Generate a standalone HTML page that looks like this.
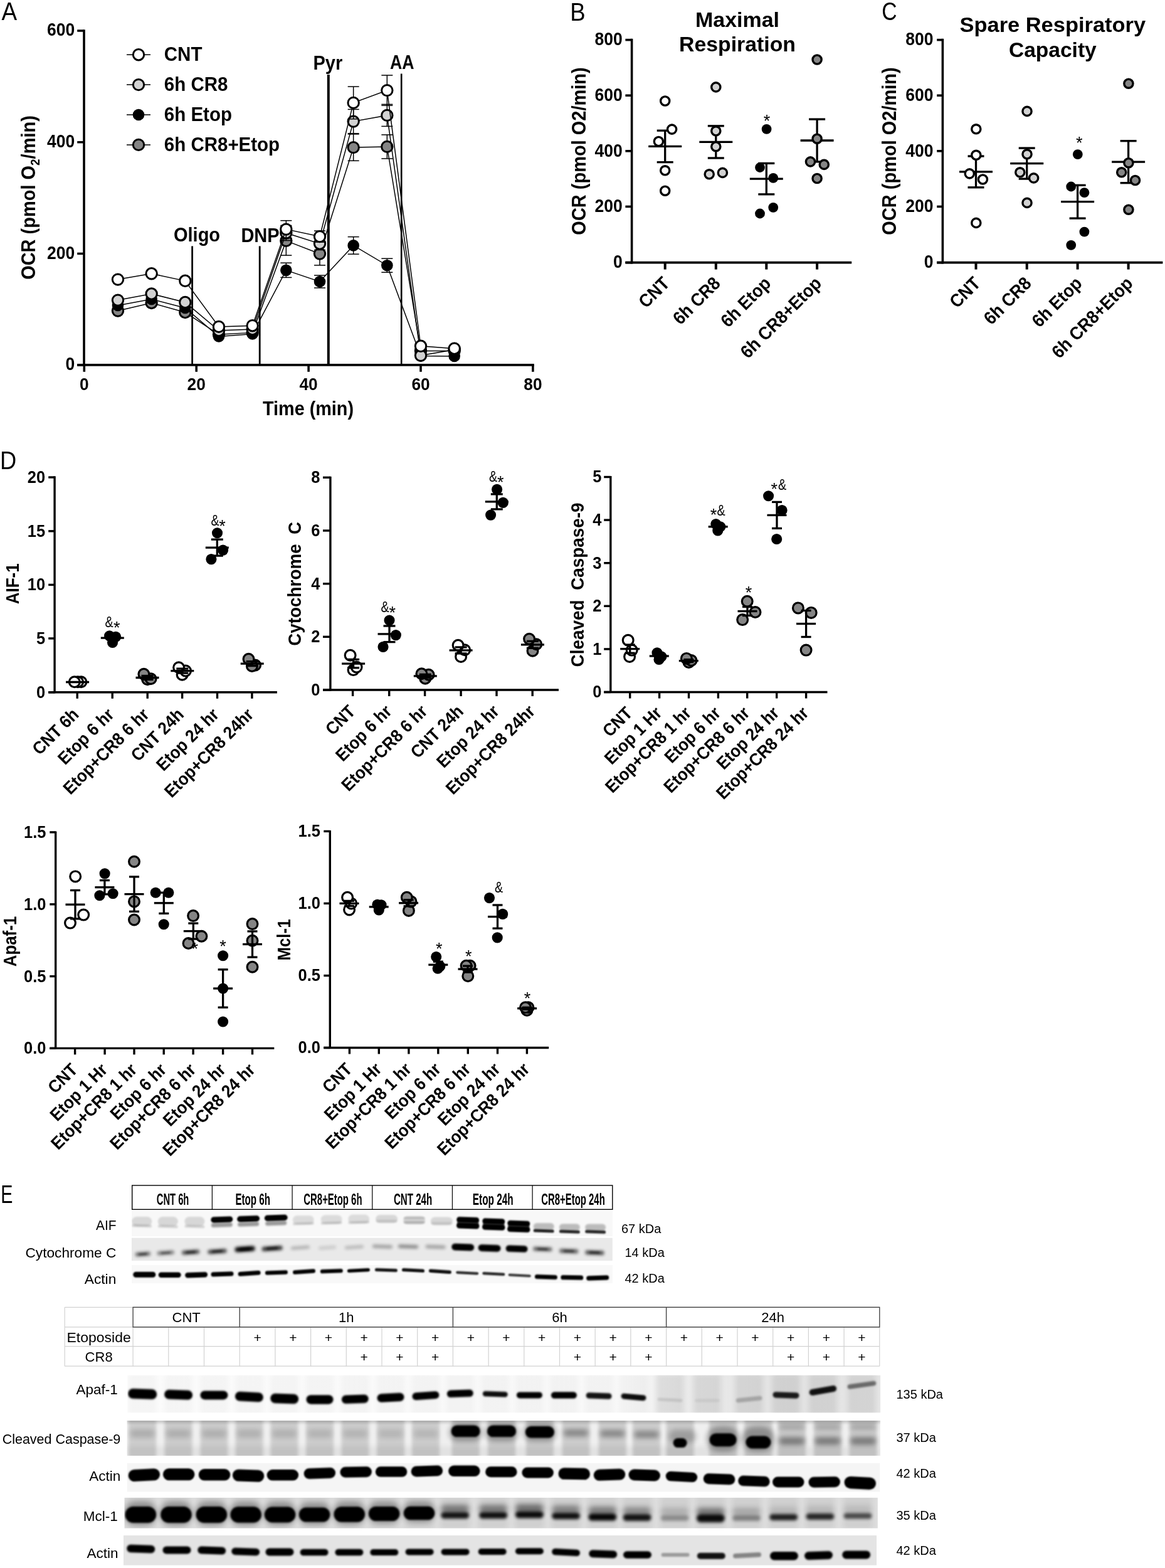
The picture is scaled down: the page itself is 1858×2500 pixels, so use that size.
<!DOCTYPE html>
<html lang="en"><head><meta charset="utf-8"><title>Figure</title>
<style>
html,body{margin:0;padding:0;background:#fff;}
body{width:1858px;height:2500px;overflow:hidden;font-family:'Liberation Sans', Arial, sans-serif;}
svg{display:block;}
svg text{font-family:"Liberation Sans",Arial,sans-serif;}
</style></head><body>
<svg width="1858" height="2500" viewBox="0 0 1858 2500">
<rect width="1858" height="2500" fill="#fff"/>
<text xml:space="preserve" transform="translate(2.60,32.00) scale(0.9,1)" font-size="41" font-weight="normal" text-anchor="start" fill="#000" >A</text>
<line x1="306.60" y1="392.40" x2="306.60" y2="581.50" stroke="#000" stroke-width="2.8" stroke-linecap="butt"/>
<line x1="414.20" y1="392.40" x2="414.20" y2="581.50" stroke="#000" stroke-width="2.8" stroke-linecap="butt"/>
<line x1="523.80" y1="119.00" x2="523.80" y2="581.50" stroke="#000" stroke-width="4" stroke-linecap="butt"/>
<line x1="640.20" y1="117.40" x2="640.20" y2="581.50" stroke="#000" stroke-width="2.6" stroke-linecap="butt"/>
<text xml:space="preserve" transform="translate(277.00,384.80) scale(0.9259,1)" font-size="31.32" font-weight="bold" text-anchor="start" fill="#000" >Oligo</text>
<text xml:space="preserve" transform="translate(384.40,385.50) scale(0.9259,1)" font-size="31.32" font-weight="bold" text-anchor="start" fill="#000" >DNP</text>
<text xml:space="preserve" transform="translate(499.50,111.00) scale(0.9259,1)" font-size="31.32" font-weight="bold" text-anchor="start" fill="#000" >Pyr</text>
<text xml:space="preserve" transform="translate(622.00,109.50)" font-size="31.3" font-weight="bold" text-anchor="start" fill="#000" textLength="38.5" lengthAdjust="spacingAndGlyphs" >AA</text>
<line x1="456.32" y1="360.70" x2="456.32" y2="407.10" stroke="#000" stroke-width="1.5" stroke-linecap="butt"/>
<line x1="447.32" y1="360.70" x2="465.32" y2="360.70" stroke="#000" stroke-width="1.5" stroke-linecap="butt"/>
<line x1="447.32" y1="407.10" x2="465.32" y2="407.10" stroke="#000" stroke-width="1.5" stroke-linecap="butt"/>
<line x1="509.99" y1="386.30" x2="509.99" y2="422.90" stroke="#000" stroke-width="1.5" stroke-linecap="butt"/>
<line x1="500.99" y1="386.30" x2="518.99" y2="386.30" stroke="#000" stroke-width="1.5" stroke-linecap="butt"/>
<line x1="500.99" y1="422.90" x2="518.99" y2="422.90" stroke="#000" stroke-width="1.5" stroke-linecap="butt"/>
<line x1="563.66" y1="213.90" x2="563.66" y2="256.30" stroke="#000" stroke-width="1.5" stroke-linecap="butt"/>
<line x1="554.66" y1="213.90" x2="572.66" y2="213.90" stroke="#000" stroke-width="1.5" stroke-linecap="butt"/>
<line x1="554.66" y1="256.30" x2="572.66" y2="256.30" stroke="#000" stroke-width="1.5" stroke-linecap="butt"/>
<line x1="617.33" y1="214.90" x2="617.33" y2="252.90" stroke="#000" stroke-width="1.5" stroke-linecap="butt"/>
<line x1="608.33" y1="214.90" x2="626.33" y2="214.90" stroke="#000" stroke-width="1.5" stroke-linecap="butt"/>
<line x1="608.33" y1="252.90" x2="626.33" y2="252.90" stroke="#000" stroke-width="1.5" stroke-linecap="butt"/>
<polyline fill="none" stroke="#000" stroke-width="1.5" points="188.0,495.6 241.6,483.0 295.3,498.0 349.0,533.3 402.7,530.4 456.3,383.9 510.0,404.6 563.7,235.1 617.3,233.9 671.0,559.5 724.7,559.5"/>
<circle cx="187.97" cy="495.60" r="8.7" fill="#858585" stroke="#000" stroke-width="3"/>
<circle cx="241.64" cy="483.00" r="8.7" fill="#858585" stroke="#000" stroke-width="3"/>
<circle cx="295.31" cy="498.00" r="8.7" fill="#858585" stroke="#000" stroke-width="3"/>
<circle cx="348.98" cy="533.30" r="8.7" fill="#858585" stroke="#000" stroke-width="3"/>
<circle cx="402.65" cy="530.40" r="8.7" fill="#858585" stroke="#000" stroke-width="3"/>
<circle cx="456.32" cy="383.90" r="8.7" fill="#858585" stroke="#000" stroke-width="3"/>
<circle cx="509.99" cy="404.60" r="8.7" fill="#858585" stroke="#000" stroke-width="3"/>
<circle cx="563.66" cy="235.10" r="8.7" fill="#858585" stroke="#000" stroke-width="3"/>
<circle cx="617.33" cy="233.90" r="8.7" fill="#858585" stroke="#000" stroke-width="3"/>
<circle cx="671.00" cy="559.50" r="8.7" fill="#858585" stroke="#000" stroke-width="3"/>
<circle cx="724.67" cy="559.50" r="8.7" fill="#858585" stroke="#000" stroke-width="3"/>
<line x1="456.32" y1="419.20" x2="456.32" y2="442.40" stroke="#000" stroke-width="1.5" stroke-linecap="butt"/>
<line x1="447.32" y1="419.20" x2="465.32" y2="419.20" stroke="#000" stroke-width="1.5" stroke-linecap="butt"/>
<line x1="447.32" y1="442.40" x2="465.32" y2="442.40" stroke="#000" stroke-width="1.5" stroke-linecap="butt"/>
<line x1="509.99" y1="439.00" x2="509.99" y2="459.00" stroke="#000" stroke-width="1.5" stroke-linecap="butt"/>
<line x1="500.99" y1="439.00" x2="518.99" y2="439.00" stroke="#000" stroke-width="1.5" stroke-linecap="butt"/>
<line x1="500.99" y1="459.00" x2="518.99" y2="459.00" stroke="#000" stroke-width="1.5" stroke-linecap="butt"/>
<line x1="563.66" y1="377.60" x2="563.66" y2="405.20" stroke="#000" stroke-width="1.5" stroke-linecap="butt"/>
<line x1="554.66" y1="377.60" x2="572.66" y2="377.60" stroke="#000" stroke-width="1.5" stroke-linecap="butt"/>
<line x1="554.66" y1="405.20" x2="572.66" y2="405.20" stroke="#000" stroke-width="1.5" stroke-linecap="butt"/>
<line x1="617.33" y1="412.20" x2="617.33" y2="434.20" stroke="#000" stroke-width="1.5" stroke-linecap="butt"/>
<line x1="608.33" y1="412.20" x2="626.33" y2="412.20" stroke="#000" stroke-width="1.5" stroke-linecap="butt"/>
<line x1="608.33" y1="434.20" x2="626.33" y2="434.20" stroke="#000" stroke-width="1.5" stroke-linecap="butt"/>
<polyline fill="none" stroke="#000" stroke-width="1.5" points="188.0,487.0 241.6,477.0 295.3,491.0 349.0,536.5 402.7,532.5 456.3,430.8 510.0,449.0 563.7,391.4 617.3,423.2 671.0,567.5 724.7,568.0"/>
<circle cx="187.97" cy="487.00" r="9.30" fill="#000"/>
<circle cx="241.64" cy="477.00" r="9.30" fill="#000"/>
<circle cx="295.31" cy="491.00" r="9.30" fill="#000"/>
<circle cx="348.98" cy="536.50" r="9.30" fill="#000"/>
<circle cx="402.65" cy="532.50" r="9.30" fill="#000"/>
<circle cx="456.32" cy="430.80" r="9.30" fill="#000"/>
<circle cx="509.99" cy="449.00" r="9.30" fill="#000"/>
<circle cx="563.66" cy="391.40" r="9.30" fill="#000"/>
<circle cx="617.33" cy="423.20" r="9.30" fill="#000"/>
<circle cx="671.00" cy="567.50" r="9.30" fill="#000"/>
<circle cx="724.67" cy="568.00" r="9.30" fill="#000"/>
<line x1="456.32" y1="359.50" x2="456.32" y2="383.50" stroke="#000" stroke-width="1.5" stroke-linecap="butt"/>
<line x1="447.32" y1="359.50" x2="465.32" y2="359.50" stroke="#000" stroke-width="1.5" stroke-linecap="butt"/>
<line x1="447.32" y1="383.50" x2="465.32" y2="383.50" stroke="#000" stroke-width="1.5" stroke-linecap="butt"/>
<line x1="509.99" y1="378.50" x2="509.99" y2="398.50" stroke="#000" stroke-width="1.5" stroke-linecap="butt"/>
<line x1="500.99" y1="378.50" x2="518.99" y2="378.50" stroke="#000" stroke-width="1.5" stroke-linecap="butt"/>
<line x1="500.99" y1="398.50" x2="518.99" y2="398.50" stroke="#000" stroke-width="1.5" stroke-linecap="butt"/>
<line x1="563.66" y1="174.40" x2="563.66" y2="212.80" stroke="#000" stroke-width="1.5" stroke-linecap="butt"/>
<line x1="554.66" y1="174.40" x2="572.66" y2="174.40" stroke="#000" stroke-width="1.5" stroke-linecap="butt"/>
<line x1="554.66" y1="212.80" x2="572.66" y2="212.80" stroke="#000" stroke-width="1.5" stroke-linecap="butt"/>
<line x1="617.33" y1="166.40" x2="617.33" y2="201.40" stroke="#000" stroke-width="1.5" stroke-linecap="butt"/>
<line x1="608.33" y1="166.40" x2="626.33" y2="166.40" stroke="#000" stroke-width="1.5" stroke-linecap="butt"/>
<line x1="608.33" y1="201.40" x2="626.33" y2="201.40" stroke="#000" stroke-width="1.5" stroke-linecap="butt"/>
<polyline fill="none" stroke="#000" stroke-width="1.5" points="188.0,478.6 241.6,468.5 295.3,482.0 349.0,527.0 402.7,525.0 456.3,371.5 510.0,388.5 563.7,193.6 617.3,183.9 671.0,566.8 724.7,557.5"/>
<circle cx="187.97" cy="478.60" r="8.7" fill="#d2d2d2" stroke="#000" stroke-width="3"/>
<circle cx="241.64" cy="468.50" r="8.7" fill="#d2d2d2" stroke="#000" stroke-width="3"/>
<circle cx="295.31" cy="482.00" r="8.7" fill="#d2d2d2" stroke="#000" stroke-width="3"/>
<circle cx="348.98" cy="527.00" r="8.7" fill="#d2d2d2" stroke="#000" stroke-width="3"/>
<circle cx="402.65" cy="525.00" r="8.7" fill="#d2d2d2" stroke="#000" stroke-width="3"/>
<circle cx="456.32" cy="371.50" r="8.7" fill="#d2d2d2" stroke="#000" stroke-width="3"/>
<circle cx="509.99" cy="388.50" r="8.7" fill="#d2d2d2" stroke="#000" stroke-width="3"/>
<circle cx="563.66" cy="193.60" r="8.7" fill="#d2d2d2" stroke="#000" stroke-width="3"/>
<circle cx="617.33" cy="183.90" r="8.7" fill="#d2d2d2" stroke="#000" stroke-width="3"/>
<circle cx="671.00" cy="566.80" r="8.7" fill="#d2d2d2" stroke="#000" stroke-width="3"/>
<circle cx="724.67" cy="557.50" r="8.7" fill="#d2d2d2" stroke="#000" stroke-width="3"/>
<line x1="456.32" y1="351.70" x2="456.32" y2="379.50" stroke="#000" stroke-width="1.5" stroke-linecap="butt"/>
<line x1="447.32" y1="351.70" x2="465.32" y2="351.70" stroke="#000" stroke-width="1.5" stroke-linecap="butt"/>
<line x1="447.32" y1="379.50" x2="465.32" y2="379.50" stroke="#000" stroke-width="1.5" stroke-linecap="butt"/>
<line x1="509.99" y1="368.10" x2="509.99" y2="386.10" stroke="#000" stroke-width="1.5" stroke-linecap="butt"/>
<line x1="500.99" y1="368.10" x2="518.99" y2="368.10" stroke="#000" stroke-width="1.5" stroke-linecap="butt"/>
<line x1="500.99" y1="386.10" x2="518.99" y2="386.10" stroke="#000" stroke-width="1.5" stroke-linecap="butt"/>
<line x1="563.66" y1="138.10" x2="563.66" y2="189.70" stroke="#000" stroke-width="1.5" stroke-linecap="butt"/>
<line x1="554.66" y1="138.10" x2="572.66" y2="138.10" stroke="#000" stroke-width="1.5" stroke-linecap="butt"/>
<line x1="554.66" y1="189.70" x2="572.66" y2="189.70" stroke="#000" stroke-width="1.5" stroke-linecap="butt"/>
<line x1="617.33" y1="120.00" x2="617.33" y2="168.20" stroke="#000" stroke-width="1.5" stroke-linecap="butt"/>
<line x1="608.33" y1="120.00" x2="626.33" y2="120.00" stroke="#000" stroke-width="1.5" stroke-linecap="butt"/>
<line x1="608.33" y1="168.20" x2="626.33" y2="168.20" stroke="#000" stroke-width="1.5" stroke-linecap="butt"/>
<polyline fill="none" stroke="#000" stroke-width="1.5" points="188.0,445.6 241.6,436.3 295.3,447.8 349.0,520.9 402.7,519.2 456.3,365.6 510.0,377.1 563.7,163.9 617.3,144.1 671.0,551.8 724.7,555.7"/>
<circle cx="187.97" cy="445.60" r="8.7" fill="#ffffff" stroke="#000" stroke-width="3"/>
<circle cx="241.64" cy="436.30" r="8.7" fill="#ffffff" stroke="#000" stroke-width="3"/>
<circle cx="295.31" cy="447.80" r="8.7" fill="#ffffff" stroke="#000" stroke-width="3"/>
<circle cx="348.98" cy="520.90" r="8.7" fill="#ffffff" stroke="#000" stroke-width="3"/>
<circle cx="402.65" cy="519.20" r="8.7" fill="#ffffff" stroke="#000" stroke-width="3"/>
<circle cx="456.32" cy="365.60" r="8.7" fill="#ffffff" stroke="#000" stroke-width="3"/>
<circle cx="509.99" cy="377.10" r="8.7" fill="#ffffff" stroke="#000" stroke-width="3"/>
<circle cx="563.66" cy="163.90" r="8.7" fill="#ffffff" stroke="#000" stroke-width="3"/>
<circle cx="617.33" cy="144.10" r="8.7" fill="#ffffff" stroke="#000" stroke-width="3"/>
<circle cx="671.00" cy="551.80" r="8.7" fill="#ffffff" stroke="#000" stroke-width="3"/>
<circle cx="724.67" cy="555.70" r="8.7" fill="#ffffff" stroke="#000" stroke-width="3"/>
<line x1="134.00" y1="47.30" x2="134.00" y2="583.70" stroke="#000" stroke-width="3.6" stroke-linecap="butt"/>
<line x1="123.20" y1="581.90" x2="851.80" y2="581.90" stroke="#000" stroke-width="3.6" stroke-linecap="butt"/>
<line x1="123.20" y1="582.10" x2="134.00" y2="582.10" stroke="#000" stroke-width="3.5" stroke-linecap="butt"/>
<text xml:space="preserve" transform="translate(119.20,590.40) scale(0.9259,1)" font-size="28.62" font-weight="bold" text-anchor="end" fill="#000" >0</text>
<line x1="123.20" y1="404.40" x2="134.00" y2="404.40" stroke="#000" stroke-width="3.5" stroke-linecap="butt"/>
<text xml:space="preserve" transform="translate(119.20,412.70) scale(0.9259,1)" font-size="28.62" font-weight="bold" text-anchor="end" fill="#000" >200</text>
<line x1="123.20" y1="226.70" x2="134.00" y2="226.70" stroke="#000" stroke-width="3.5" stroke-linecap="butt"/>
<text xml:space="preserve" transform="translate(119.20,235.00) scale(0.9259,1)" font-size="28.62" font-weight="bold" text-anchor="end" fill="#000" >400</text>
<line x1="123.20" y1="49.00" x2="134.00" y2="49.00" stroke="#000" stroke-width="3.5" stroke-linecap="butt"/>
<text xml:space="preserve" transform="translate(119.20,57.30) scale(0.9259,1)" font-size="28.62" font-weight="bold" text-anchor="end" fill="#000" >600</text>
<line x1="134.30" y1="581.90" x2="134.30" y2="592.80" stroke="#000" stroke-width="3.6" stroke-linecap="butt"/>
<text xml:space="preserve" transform="translate(134.30,621.60) scale(0.9259,1)" font-size="28.4" font-weight="bold" text-anchor="middle" fill="#000" >0</text>
<line x1="313.20" y1="581.90" x2="313.20" y2="592.80" stroke="#000" stroke-width="3.6" stroke-linecap="butt"/>
<text xml:space="preserve" transform="translate(313.20,621.60) scale(0.9259,1)" font-size="28.4" font-weight="bold" text-anchor="middle" fill="#000" >20</text>
<line x1="492.10" y1="581.90" x2="492.10" y2="592.80" stroke="#000" stroke-width="3.6" stroke-linecap="butt"/>
<text xml:space="preserve" transform="translate(492.10,621.60) scale(0.9259,1)" font-size="28.4" font-weight="bold" text-anchor="middle" fill="#000" >40</text>
<line x1="671.00" y1="581.90" x2="671.00" y2="592.80" stroke="#000" stroke-width="3.6" stroke-linecap="butt"/>
<text xml:space="preserve" transform="translate(671.00,621.60) scale(0.9259,1)" font-size="28.4" font-weight="bold" text-anchor="middle" fill="#000" >60</text>
<line x1="849.90" y1="581.90" x2="849.90" y2="592.80" stroke="#000" stroke-width="3.6" stroke-linecap="butt"/>
<text xml:space="preserve" transform="translate(849.90,621.60) scale(0.9259,1)" font-size="28.4" font-weight="bold" text-anchor="middle" fill="#000" >80</text>
<text xml:space="preserve" transform="translate(491.50,661.90) scale(0.9259,1)" font-size="31.1" font-weight="bold" text-anchor="middle" fill="#000" >Time (min)</text>
<text transform="translate(56,315) rotate(-90) scale(0.926,1)" font-size="31.3" font-weight="bold" text-anchor="middle">OCR (pmol O<tspan font-size="20.5" dy="6.5">2</tspan><tspan dy="-6.5">/min)</tspan></text>
<line x1="202.00" y1="87.20" x2="240.00" y2="87.20" stroke="#000" stroke-width="1.5" stroke-linecap="butt"/>
<circle cx="221.00" cy="87.20" r="8.7" fill="#ffffff" stroke="#000" stroke-width="3"/>
<text xml:space="preserve" transform="translate(261.80,97.00) scale(0.9259,1)" font-size="31.86" font-weight="bold" text-anchor="start" fill="#000" >CNT</text>
<line x1="202.00" y1="135.10" x2="240.00" y2="135.10" stroke="#000" stroke-width="1.5" stroke-linecap="butt"/>
<circle cx="221.00" cy="135.10" r="8.7" fill="#d2d2d2" stroke="#000" stroke-width="3"/>
<text xml:space="preserve" transform="translate(261.80,144.90) scale(0.9259,1)" font-size="31.86" font-weight="bold" text-anchor="start" fill="#000" >6h CR8</text>
<line x1="202.00" y1="183.00" x2="240.00" y2="183.00" stroke="#000" stroke-width="1.5" stroke-linecap="butt"/>
<circle cx="221.00" cy="183.00" r="9.30" fill="#000"/>
<text xml:space="preserve" transform="translate(261.80,192.80) scale(0.9259,1)" font-size="31.86" font-weight="bold" text-anchor="start" fill="#000" >6h Etop</text>
<line x1="202.00" y1="230.90" x2="240.00" y2="230.90" stroke="#000" stroke-width="1.5" stroke-linecap="butt"/>
<circle cx="221.00" cy="230.90" r="8.7" fill="#858585" stroke="#000" stroke-width="3"/>
<text xml:space="preserve" transform="translate(261.80,240.70) scale(0.9259,1)" font-size="31.86" font-weight="bold" text-anchor="start" fill="#000" >6h CR8+Etop</text>
<text xml:space="preserve" transform="translate(909.30,32.60) scale(0.89,1)" font-size="41" font-weight="normal" text-anchor="start" fill="#000" >B</text>
<text xml:space="preserve" transform="translate(1176.00,43.40)" font-size="32.5" font-weight="bold" text-anchor="middle" fill="#000" textLength="134" lengthAdjust="spacingAndGlyphs" >Maximal</text>
<text xml:space="preserve" transform="translate(1176.00,82.20)" font-size="32.5" font-weight="bold" text-anchor="middle" fill="#000" textLength="186" lengthAdjust="spacingAndGlyphs" >Respiration</text>
<line x1="1034.20" y1="233.40" x2="1087.20" y2="233.40" stroke="#000" stroke-width="3.3" stroke-linecap="butt"/>
<line x1="1060.70" y1="208.20" x2="1060.70" y2="258.60" stroke="#000" stroke-width="3.3" stroke-linecap="butt"/>
<line x1="1047.70" y1="208.20" x2="1073.70" y2="208.20" stroke="#000" stroke-width="3.3" stroke-linecap="butt"/>
<line x1="1047.70" y1="258.60" x2="1073.70" y2="258.60" stroke="#000" stroke-width="3.3" stroke-linecap="butt"/>
<circle cx="1060.70" cy="161.00" r="7.1" fill="#ffffff" stroke="#000" stroke-width="3.4"/>
<circle cx="1071.60" cy="206.10" r="7.1" fill="#ffffff" stroke="#000" stroke-width="3.4"/>
<circle cx="1050.40" cy="225.50" r="7.1" fill="#ffffff" stroke="#000" stroke-width="3.4"/>
<circle cx="1060.70" cy="271.80" r="7.1" fill="#ffffff" stroke="#000" stroke-width="3.4"/>
<circle cx="1060.70" cy="304.20" r="7.1" fill="#ffffff" stroke="#000" stroke-width="3.4"/>
<line x1="1115.30" y1="226.40" x2="1168.30" y2="226.40" stroke="#000" stroke-width="3.3" stroke-linecap="butt"/>
<line x1="1141.80" y1="200.80" x2="1141.80" y2="252.00" stroke="#000" stroke-width="3.3" stroke-linecap="butt"/>
<line x1="1128.80" y1="200.80" x2="1154.80" y2="200.80" stroke="#000" stroke-width="3.3" stroke-linecap="butt"/>
<line x1="1128.80" y1="252.00" x2="1154.80" y2="252.00" stroke="#000" stroke-width="3.3" stroke-linecap="butt"/>
<circle cx="1141.80" cy="138.90" r="7.1" fill="#d2d2d2" stroke="#000" stroke-width="3.4"/>
<circle cx="1141.80" cy="208.80" r="7.1" fill="#d2d2d2" stroke="#000" stroke-width="3.4"/>
<circle cx="1141.80" cy="233.70" r="7.1" fill="#d2d2d2" stroke="#000" stroke-width="3.4"/>
<circle cx="1131.20" cy="277.80" r="7.1" fill="#d2d2d2" stroke="#000" stroke-width="3.4"/>
<circle cx="1152.40" cy="275.40" r="7.1" fill="#d2d2d2" stroke="#000" stroke-width="3.4"/>
<line x1="1195.80" y1="285.10" x2="1248.80" y2="285.10" stroke="#000" stroke-width="3.3" stroke-linecap="butt"/>
<line x1="1222.30" y1="260.40" x2="1222.30" y2="309.80" stroke="#000" stroke-width="3.3" stroke-linecap="butt"/>
<line x1="1209.30" y1="260.40" x2="1235.30" y2="260.40" stroke="#000" stroke-width="3.3" stroke-linecap="butt"/>
<line x1="1209.30" y1="309.80" x2="1235.30" y2="309.80" stroke="#000" stroke-width="3.3" stroke-linecap="butt"/>
<circle cx="1222.60" cy="205.80" r="7.90" fill="#000"/>
<circle cx="1212.00" cy="267.00" r="7.90" fill="#000"/>
<circle cx="1233.20" cy="283.90" r="7.90" fill="#000"/>
<circle cx="1233.20" cy="330.80" r="7.90" fill="#000"/>
<circle cx="1212.00" cy="340.50" r="7.90" fill="#000"/>
<line x1="1276.60" y1="224.00" x2="1329.60" y2="224.00" stroke="#000" stroke-width="3.3" stroke-linecap="butt"/>
<line x1="1303.10" y1="190.10" x2="1303.10" y2="257.90" stroke="#000" stroke-width="3.3" stroke-linecap="butt"/>
<line x1="1290.10" y1="190.10" x2="1316.10" y2="190.10" stroke="#000" stroke-width="3.3" stroke-linecap="butt"/>
<line x1="1290.10" y1="257.90" x2="1316.10" y2="257.90" stroke="#000" stroke-width="3.3" stroke-linecap="butt"/>
<circle cx="1303.10" cy="95.00" r="7.1" fill="#858585" stroke="#000" stroke-width="3.4"/>
<circle cx="1303.10" cy="221.20" r="7.1" fill="#858585" stroke="#000" stroke-width="3.4"/>
<circle cx="1292.50" cy="257.90" r="7.1" fill="#858585" stroke="#000" stroke-width="3.4"/>
<circle cx="1314.30" cy="262.40" r="7.1" fill="#858585" stroke="#000" stroke-width="3.4"/>
<circle cx="1303.10" cy="284.50" r="7.1" fill="#858585" stroke="#000" stroke-width="3.4"/>
<text xml:space="preserve" transform="translate(1217.66,202.15)" font-size="27" font-weight="normal" text-anchor="start" fill="#000" >*</text>
<line x1="1007.60" y1="61.80" x2="1007.60" y2="420.40" stroke="#000" stroke-width="3.6" stroke-linecap="butt"/>
<line x1="997.40" y1="418.60" x2="1358.20" y2="418.60" stroke="#000" stroke-width="3.6" stroke-linecap="butt"/>
<line x1="997.40" y1="418.60" x2="1007.60" y2="418.60" stroke="#000" stroke-width="3.6" stroke-linecap="butt"/>
<text xml:space="preserve" transform="translate(992.70,427.30) scale(0.9259,1)" font-size="28.62" font-weight="bold" text-anchor="end" fill="#000" >0</text>
<line x1="997.40" y1="329.40" x2="1007.60" y2="329.40" stroke="#000" stroke-width="3.6" stroke-linecap="butt"/>
<text xml:space="preserve" transform="translate(992.70,338.10) scale(0.9259,1)" font-size="28.62" font-weight="bold" text-anchor="end" fill="#000" >200</text>
<line x1="997.40" y1="240.80" x2="1007.60" y2="240.80" stroke="#000" stroke-width="3.6" stroke-linecap="butt"/>
<text xml:space="preserve" transform="translate(992.70,249.50) scale(0.9259,1)" font-size="28.62" font-weight="bold" text-anchor="end" fill="#000" >400</text>
<line x1="997.40" y1="152.20" x2="1007.60" y2="152.20" stroke="#000" stroke-width="3.6" stroke-linecap="butt"/>
<text xml:space="preserve" transform="translate(992.70,160.90) scale(0.9259,1)" font-size="28.62" font-weight="bold" text-anchor="end" fill="#000" >600</text>
<line x1="997.40" y1="63.60" x2="1007.60" y2="63.60" stroke="#000" stroke-width="3.6" stroke-linecap="butt"/>
<text xml:space="preserve" transform="translate(992.70,72.30) scale(0.9259,1)" font-size="28.62" font-weight="bold" text-anchor="end" fill="#000" >800</text>
<line x1="1060.70" y1="418.60" x2="1060.70" y2="429.60" stroke="#000" stroke-width="4" stroke-linecap="butt"/>
<text xml:space="preserve" transform="translate(1069.60,453.60) rotate(-45) scale(0.9259,1)" font-size="29.16" font-weight="bold" text-anchor="end" fill="#000" >CNT</text>
<line x1="1141.80" y1="418.60" x2="1141.80" y2="429.60" stroke="#000" stroke-width="4" stroke-linecap="butt"/>
<text xml:space="preserve" transform="translate(1150.70,453.60) rotate(-45) scale(0.9259,1)" font-size="29.16" font-weight="bold" text-anchor="end" fill="#000" >6h CR8</text>
<line x1="1222.30" y1="418.60" x2="1222.30" y2="429.60" stroke="#000" stroke-width="4" stroke-linecap="butt"/>
<text xml:space="preserve" transform="translate(1231.20,453.60) rotate(-45) scale(0.9259,1)" font-size="29.16" font-weight="bold" text-anchor="end" fill="#000" >6h Etop</text>
<line x1="1303.10" y1="418.60" x2="1303.10" y2="429.60" stroke="#000" stroke-width="4" stroke-linecap="butt"/>
<text xml:space="preserve" transform="translate(1312.00,453.60) rotate(-45) scale(0.9259,1)" font-size="29.16" font-weight="bold" text-anchor="end" fill="#000" >6h CR8+Etop</text>
<text xml:space="preserve" transform="translate(934.00,241.00) rotate(-90) scale(0.9259,1)" font-size="31.32" font-weight="bold" text-anchor="middle" fill="#000" >OCR (pmol O2/min)</text>
<text xml:space="preserve" transform="translate(1406.30,32.30) scale(0.82,1)" font-size="41" font-weight="normal" text-anchor="start" fill="#000" >C</text>
<text xml:space="preserve" transform="translate(1678.80,51.30)" font-size="32.5" font-weight="bold" text-anchor="middle" fill="#000" textLength="296.6" lengthAdjust="spacingAndGlyphs" >Spare Respiratory</text>
<text xml:space="preserve" transform="translate(1678.80,90.60)" font-size="32.5" font-weight="bold" text-anchor="middle" fill="#000" textLength="139.8" lengthAdjust="spacingAndGlyphs" >Capacity</text>
<line x1="1530.00" y1="273.90" x2="1583.00" y2="273.90" stroke="#000" stroke-width="3.3" stroke-linecap="butt"/>
<line x1="1556.50" y1="249.00" x2="1556.50" y2="298.80" stroke="#000" stroke-width="3.3" stroke-linecap="butt"/>
<line x1="1543.50" y1="249.00" x2="1569.50" y2="249.00" stroke="#000" stroke-width="3.3" stroke-linecap="butt"/>
<line x1="1543.50" y1="298.80" x2="1569.50" y2="298.80" stroke="#000" stroke-width="3.3" stroke-linecap="butt"/>
<circle cx="1556.80" cy="205.80" r="7.1" fill="#ffffff" stroke="#000" stroke-width="3.4"/>
<circle cx="1556.80" cy="247.30" r="7.1" fill="#ffffff" stroke="#000" stroke-width="3.4"/>
<circle cx="1546.30" cy="276.90" r="7.1" fill="#ffffff" stroke="#000" stroke-width="3.4"/>
<circle cx="1567.40" cy="286.00" r="7.1" fill="#ffffff" stroke="#000" stroke-width="3.4"/>
<circle cx="1556.80" cy="355.40" r="7.1" fill="#ffffff" stroke="#000" stroke-width="3.4"/>
<line x1="1611.20" y1="260.60" x2="1664.20" y2="260.60" stroke="#000" stroke-width="3.3" stroke-linecap="butt"/>
<line x1="1637.70" y1="236.10" x2="1637.70" y2="285.10" stroke="#000" stroke-width="3.3" stroke-linecap="butt"/>
<line x1="1624.70" y1="236.10" x2="1650.70" y2="236.10" stroke="#000" stroke-width="3.3" stroke-linecap="butt"/>
<line x1="1624.70" y1="285.10" x2="1650.70" y2="285.10" stroke="#000" stroke-width="3.3" stroke-linecap="butt"/>
<circle cx="1638.00" cy="177.40" r="7.1" fill="#d2d2d2" stroke="#000" stroke-width="3.4"/>
<circle cx="1638.00" cy="245.80" r="7.1" fill="#d2d2d2" stroke="#000" stroke-width="3.4"/>
<circle cx="1626.80" cy="274.80" r="7.1" fill="#d2d2d2" stroke="#000" stroke-width="3.4"/>
<circle cx="1648.60" cy="283.90" r="7.1" fill="#d2d2d2" stroke="#000" stroke-width="3.4"/>
<circle cx="1638.00" cy="323.40" r="7.1" fill="#d2d2d2" stroke="#000" stroke-width="3.4"/>
<line x1="1692.10" y1="321.70" x2="1745.10" y2="321.70" stroke="#000" stroke-width="3.3" stroke-linecap="butt"/>
<line x1="1718.60" y1="295.30" x2="1718.60" y2="348.10" stroke="#000" stroke-width="3.3" stroke-linecap="butt"/>
<line x1="1705.60" y1="295.30" x2="1731.60" y2="295.30" stroke="#000" stroke-width="3.3" stroke-linecap="butt"/>
<line x1="1705.60" y1="348.10" x2="1731.60" y2="348.10" stroke="#000" stroke-width="3.3" stroke-linecap="butt"/>
<circle cx="1718.80" cy="246.10" r="7.90" fill="#000"/>
<circle cx="1708.20" cy="297.50" r="7.90" fill="#000"/>
<circle cx="1729.40" cy="307.20" r="7.90" fill="#000"/>
<circle cx="1729.40" cy="369.60" r="7.90" fill="#000"/>
<circle cx="1708.20" cy="390.80" r="7.90" fill="#000"/>
<line x1="1773.10" y1="258.20" x2="1826.10" y2="258.20" stroke="#000" stroke-width="3.3" stroke-linecap="butt"/>
<line x1="1799.60" y1="224.70" x2="1799.60" y2="291.70" stroke="#000" stroke-width="3.3" stroke-linecap="butt"/>
<line x1="1786.60" y1="224.70" x2="1812.60" y2="224.70" stroke="#000" stroke-width="3.3" stroke-linecap="butt"/>
<line x1="1786.60" y1="291.70" x2="1812.60" y2="291.70" stroke="#000" stroke-width="3.3" stroke-linecap="butt"/>
<circle cx="1799.90" cy="133.20" r="7.1" fill="#858585" stroke="#000" stroke-width="3.4"/>
<circle cx="1799.90" cy="259.70" r="7.1" fill="#858585" stroke="#000" stroke-width="3.4"/>
<circle cx="1788.70" cy="274.80" r="7.1" fill="#858585" stroke="#000" stroke-width="3.4"/>
<circle cx="1810.50" cy="287.50" r="7.1" fill="#858585" stroke="#000" stroke-width="3.4"/>
<circle cx="1799.90" cy="334.20" r="7.1" fill="#858585" stroke="#000" stroke-width="3.4"/>
<text xml:space="preserve" transform="translate(1715.96,237.25)" font-size="27" font-weight="normal" text-anchor="start" fill="#000" >*</text>
<line x1="1503.40" y1="61.80" x2="1503.40" y2="420.40" stroke="#000" stroke-width="3.6" stroke-linecap="butt"/>
<line x1="1494.20" y1="418.60" x2="1854.40" y2="418.60" stroke="#000" stroke-width="3.6" stroke-linecap="butt"/>
<line x1="1494.20" y1="418.60" x2="1503.40" y2="418.60" stroke="#000" stroke-width="3.6" stroke-linecap="butt"/>
<text xml:space="preserve" transform="translate(1488.40,427.30) scale(0.9259,1)" font-size="28.62" font-weight="bold" text-anchor="end" fill="#000" >0</text>
<line x1="1494.20" y1="329.40" x2="1503.40" y2="329.40" stroke="#000" stroke-width="3.6" stroke-linecap="butt"/>
<text xml:space="preserve" transform="translate(1488.40,338.10) scale(0.9259,1)" font-size="28.62" font-weight="bold" text-anchor="end" fill="#000" >200</text>
<line x1="1494.20" y1="240.80" x2="1503.40" y2="240.80" stroke="#000" stroke-width="3.6" stroke-linecap="butt"/>
<text xml:space="preserve" transform="translate(1488.40,249.50) scale(0.9259,1)" font-size="28.62" font-weight="bold" text-anchor="end" fill="#000" >400</text>
<line x1="1494.20" y1="152.20" x2="1503.40" y2="152.20" stroke="#000" stroke-width="3.6" stroke-linecap="butt"/>
<text xml:space="preserve" transform="translate(1488.40,160.90) scale(0.9259,1)" font-size="28.62" font-weight="bold" text-anchor="end" fill="#000" >600</text>
<line x1="1494.20" y1="63.60" x2="1503.40" y2="63.60" stroke="#000" stroke-width="3.6" stroke-linecap="butt"/>
<text xml:space="preserve" transform="translate(1488.40,72.30) scale(0.9259,1)" font-size="28.62" font-weight="bold" text-anchor="end" fill="#000" >800</text>
<line x1="1556.50" y1="418.60" x2="1556.50" y2="429.60" stroke="#000" stroke-width="4" stroke-linecap="butt"/>
<text xml:space="preserve" transform="translate(1565.40,453.60) rotate(-45) scale(0.9259,1)" font-size="29.16" font-weight="bold" text-anchor="end" fill="#000" >CNT</text>
<line x1="1637.70" y1="418.60" x2="1637.70" y2="429.60" stroke="#000" stroke-width="4" stroke-linecap="butt"/>
<text xml:space="preserve" transform="translate(1646.60,453.60) rotate(-45) scale(0.9259,1)" font-size="29.16" font-weight="bold" text-anchor="end" fill="#000" >6h CR8</text>
<line x1="1718.60" y1="418.60" x2="1718.60" y2="429.60" stroke="#000" stroke-width="4" stroke-linecap="butt"/>
<text xml:space="preserve" transform="translate(1727.50,453.60) rotate(-45) scale(0.9259,1)" font-size="29.16" font-weight="bold" text-anchor="end" fill="#000" >6h Etop</text>
<line x1="1799.60" y1="418.60" x2="1799.60" y2="429.60" stroke="#000" stroke-width="4" stroke-linecap="butt"/>
<text xml:space="preserve" transform="translate(1808.50,453.60) rotate(-45) scale(0.9259,1)" font-size="29.16" font-weight="bold" text-anchor="end" fill="#000" >6h CR8+Etop</text>
<text xml:space="preserve" transform="translate(1428.50,241.00) rotate(-90) scale(0.9259,1)" font-size="31.32" font-weight="bold" text-anchor="middle" fill="#000" >OCR (pmol O2/min)</text>
<text xml:space="preserve" transform="translate(0.00,748.20) scale(0.885,1)" font-size="41" font-weight="normal" text-anchor="start" fill="#000" >D</text>
<circle cx="129.40" cy="1087.30" r="8.4" fill="#ffffff" stroke="#000" stroke-width="3.2"/>
<circle cx="124.10" cy="1087.30" r="8.4" fill="#ffffff" stroke="#000" stroke-width="3.2"/>
<circle cx="118.80" cy="1087.30" r="8.4" fill="#ffffff" stroke="#000" stroke-width="3.2"/>
<line x1="105.10" y1="1087.50" x2="142.10" y2="1087.50" stroke="#000" stroke-width="3.3" stroke-linecap="butt"/>
<circle cx="179.50" cy="1024.50" r="8.55" fill="#000"/>
<circle cx="184.60" cy="1015.40" r="8.55" fill="#000"/>
<circle cx="174.60" cy="1013.90" r="8.55" fill="#000"/>
<line x1="160.80" y1="1017.20" x2="197.80" y2="1017.20" stroke="#000" stroke-width="3.3" stroke-linecap="butt"/>
<circle cx="235.20" cy="1083.20" r="8.4" fill="#858585" stroke="#000" stroke-width="3.2"/>
<circle cx="240.60" cy="1082.30" r="8.4" fill="#858585" stroke="#000" stroke-width="3.2"/>
<circle cx="229.40" cy="1074.80" r="8.4" fill="#858585" stroke="#000" stroke-width="3.2"/>
<line x1="216.50" y1="1080.50" x2="253.50" y2="1080.50" stroke="#000" stroke-width="3.3" stroke-linecap="butt"/>
<line x1="235.00" y1="1077.50" x2="235.00" y2="1083.50" stroke="#000" stroke-width="3.3" stroke-linecap="butt"/>
<line x1="225.50" y1="1077.50" x2="244.50" y2="1077.50" stroke="#000" stroke-width="3.3" stroke-linecap="butt"/>
<line x1="225.50" y1="1083.50" x2="244.50" y2="1083.50" stroke="#000" stroke-width="3.3" stroke-linecap="butt"/>
<circle cx="290.60" cy="1075.70" r="8.4" fill="#ffffff" stroke="#000" stroke-width="3.2"/>
<circle cx="296.00" cy="1069.60" r="8.4" fill="#ffffff" stroke="#000" stroke-width="3.2"/>
<circle cx="285.10" cy="1064.20" r="8.4" fill="#ffffff" stroke="#000" stroke-width="3.2"/>
<line x1="272.30" y1="1069.60" x2="309.30" y2="1069.60" stroke="#000" stroke-width="3.3" stroke-linecap="butt"/>
<line x1="290.80" y1="1066.10" x2="290.80" y2="1073.10" stroke="#000" stroke-width="3.3" stroke-linecap="butt"/>
<line x1="281.30" y1="1066.10" x2="300.30" y2="1066.10" stroke="#000" stroke-width="3.3" stroke-linecap="butt"/>
<line x1="281.30" y1="1073.10" x2="300.30" y2="1073.10" stroke="#000" stroke-width="3.3" stroke-linecap="butt"/>
<circle cx="336.90" cy="891.60" r="8.55" fill="#000"/>
<circle cx="355.60" cy="877.10" r="8.55" fill="#000"/>
<circle cx="346.50" cy="849.80" r="8.55" fill="#000"/>
<line x1="327.80" y1="873.10" x2="364.80" y2="873.10" stroke="#000" stroke-width="3.3" stroke-linecap="butt"/>
<line x1="346.30" y1="860.10" x2="346.30" y2="886.10" stroke="#000" stroke-width="3.3" stroke-linecap="butt"/>
<line x1="336.80" y1="860.10" x2="355.80" y2="860.10" stroke="#000" stroke-width="3.3" stroke-linecap="butt"/>
<line x1="336.80" y1="886.10" x2="355.80" y2="886.10" stroke="#000" stroke-width="3.3" stroke-linecap="butt"/>
<circle cx="407.10" cy="1060.50" r="8.4" fill="#858585" stroke="#000" stroke-width="3.2"/>
<circle cx="401.90" cy="1062.00" r="8.4" fill="#858585" stroke="#000" stroke-width="3.2"/>
<circle cx="396.50" cy="1050.80" r="8.4" fill="#858585" stroke="#000" stroke-width="3.2"/>
<line x1="383.70" y1="1058.10" x2="420.70" y2="1058.10" stroke="#000" stroke-width="3.3" stroke-linecap="butt"/>
<line x1="402.20" y1="1054.60" x2="402.20" y2="1061.60" stroke="#000" stroke-width="3.3" stroke-linecap="butt"/>
<line x1="392.70" y1="1054.60" x2="411.70" y2="1054.60" stroke="#000" stroke-width="3.3" stroke-linecap="butt"/>
<line x1="392.70" y1="1061.60" x2="411.70" y2="1061.60" stroke="#000" stroke-width="3.3" stroke-linecap="butt"/>
<text xml:space="preserve" transform="translate(167.61,1000.30) scale(0.84,1)" font-size="23.5" font-weight="normal" text-anchor="start" fill="#000" >&amp;</text>
<text xml:space="preserve" transform="translate(180.96,1010.15)" font-size="27" font-weight="normal" text-anchor="start" fill="#000" >*</text>
<text xml:space="preserve" transform="translate(336.61,837.60) scale(0.84,1)" font-size="23.5" font-weight="normal" text-anchor="start" fill="#000" >&amp;</text>
<text xml:space="preserve" transform="translate(349.16,848.15)" font-size="27" font-weight="normal" text-anchor="start" fill="#000" >*</text>
<line x1="87.10" y1="759.30" x2="87.10" y2="1105.30" stroke="#000" stroke-width="3.4" stroke-linecap="butt"/>
<line x1="77.20" y1="1103.80" x2="441.90" y2="1103.80" stroke="#000" stroke-width="3.4" stroke-linecap="butt"/>
<line x1="77.20" y1="1103.80" x2="87.10" y2="1103.80" stroke="#000" stroke-width="3.4" stroke-linecap="butt"/>
<text xml:space="preserve" transform="translate(72.10,1112.70) scale(0.9259,1)" font-size="27.54" font-weight="bold" text-anchor="end" fill="#000" >0</text>
<line x1="77.20" y1="1017.90" x2="87.10" y2="1017.90" stroke="#000" stroke-width="3.4" stroke-linecap="butt"/>
<text xml:space="preserve" transform="translate(72.10,1026.80) scale(0.9259,1)" font-size="27.54" font-weight="bold" text-anchor="end" fill="#000" >5</text>
<line x1="77.20" y1="932.40" x2="87.10" y2="932.40" stroke="#000" stroke-width="3.4" stroke-linecap="butt"/>
<text xml:space="preserve" transform="translate(72.10,941.30) scale(0.9259,1)" font-size="27.54" font-weight="bold" text-anchor="end" fill="#000" >10</text>
<line x1="77.20" y1="846.80" x2="87.10" y2="846.80" stroke="#000" stroke-width="3.4" stroke-linecap="butt"/>
<text xml:space="preserve" transform="translate(72.10,855.70) scale(0.9259,1)" font-size="27.54" font-weight="bold" text-anchor="end" fill="#000" >15</text>
<line x1="77.20" y1="761.00" x2="87.10" y2="761.00" stroke="#000" stroke-width="3.4" stroke-linecap="butt"/>
<text xml:space="preserve" transform="translate(72.10,769.90) scale(0.9259,1)" font-size="27.54" font-weight="bold" text-anchor="end" fill="#000" >20</text>
<line x1="123.20" y1="1103.80" x2="123.20" y2="1113.80" stroke="#000" stroke-width="3.4" stroke-linecap="butt"/>
<text xml:space="preserve" transform="translate(127.30,1141.00) rotate(-45) scale(0.9259,1)" font-size="28.08" font-weight="bold" text-anchor="end" fill="#000" >CNT 6h</text>
<line x1="179.20" y1="1103.80" x2="179.20" y2="1113.80" stroke="#000" stroke-width="3.4" stroke-linecap="butt"/>
<text xml:space="preserve" transform="translate(183.30,1141.00) rotate(-45) scale(0.9259,1)" font-size="28.08" font-weight="bold" text-anchor="end" fill="#000" >Etop 6 hr</text>
<line x1="235.20" y1="1103.80" x2="235.20" y2="1113.80" stroke="#000" stroke-width="3.4" stroke-linecap="butt"/>
<text xml:space="preserve" transform="translate(239.30,1141.00) rotate(-45) scale(0.9259,1)" font-size="28.08" font-weight="bold" text-anchor="end" fill="#000" >Etop+CR8 6 hr</text>
<line x1="290.60" y1="1103.80" x2="290.60" y2="1113.80" stroke="#000" stroke-width="3.4" stroke-linecap="butt"/>
<text xml:space="preserve" transform="translate(294.70,1141.00) rotate(-45) scale(0.9259,1)" font-size="28.08" font-weight="bold" text-anchor="end" fill="#000" >CNT 24h</text>
<line x1="346.50" y1="1103.80" x2="346.50" y2="1113.80" stroke="#000" stroke-width="3.4" stroke-linecap="butt"/>
<text xml:space="preserve" transform="translate(350.60,1141.00) rotate(-45) scale(0.9259,1)" font-size="28.08" font-weight="bold" text-anchor="end" fill="#000" >Etop 24 hr</text>
<line x1="401.90" y1="1103.80" x2="401.90" y2="1113.80" stroke="#000" stroke-width="3.4" stroke-linecap="butt"/>
<text xml:space="preserve" transform="translate(406.00,1141.00) rotate(-45) scale(0.9259,1)" font-size="28.08" font-weight="bold" text-anchor="end" fill="#000" >Etop+CR8 24hr</text>
<text xml:space="preserve" transform="translate(30.20,930.80) rotate(-90)" font-size="29.5" font-weight="bold" text-anchor="middle" fill="#000" textLength="65" lengthAdjust="spacingAndGlyphs" >AIF-1</text>
<circle cx="563.50" cy="1068.10" r="8.4" fill="#ffffff" stroke="#000" stroke-width="3.2"/>
<circle cx="568.60" cy="1063.60" r="8.4" fill="#ffffff" stroke="#000" stroke-width="3.2"/>
<circle cx="558.60" cy="1044.80" r="8.4" fill="#ffffff" stroke="#000" stroke-width="3.2"/>
<line x1="545.10" y1="1058.10" x2="582.10" y2="1058.10" stroke="#000" stroke-width="3.3" stroke-linecap="butt"/>
<line x1="563.60" y1="1051.40" x2="563.60" y2="1064.80" stroke="#000" stroke-width="3.3" stroke-linecap="butt"/>
<line x1="554.10" y1="1051.40" x2="573.10" y2="1051.40" stroke="#000" stroke-width="3.3" stroke-linecap="butt"/>
<line x1="554.10" y1="1064.80" x2="573.10" y2="1064.80" stroke="#000" stroke-width="3.3" stroke-linecap="butt"/>
<circle cx="611.00" cy="1031.40" r="8.55" fill="#000"/>
<circle cx="631.30" cy="1012.60" r="8.55" fill="#000"/>
<circle cx="621.00" cy="989.00" r="8.55" fill="#000"/>
<line x1="602.50" y1="1010.80" x2="639.50" y2="1010.80" stroke="#000" stroke-width="3.3" stroke-linecap="butt"/>
<line x1="621.00" y1="998.00" x2="621.00" y2="1023.60" stroke="#000" stroke-width="3.3" stroke-linecap="butt"/>
<line x1="611.50" y1="998.00" x2="630.50" y2="998.00" stroke="#000" stroke-width="3.3" stroke-linecap="butt"/>
<line x1="611.50" y1="1023.60" x2="630.50" y2="1023.60" stroke="#000" stroke-width="3.3" stroke-linecap="butt"/>
<circle cx="678.20" cy="1081.70" r="8.4" fill="#858585" stroke="#000" stroke-width="3.2"/>
<circle cx="683.60" cy="1075.70" r="8.4" fill="#858585" stroke="#000" stroke-width="3.2"/>
<circle cx="672.40" cy="1074.20" r="8.4" fill="#858585" stroke="#000" stroke-width="3.2"/>
<line x1="659.80" y1="1077.80" x2="696.80" y2="1077.80" stroke="#000" stroke-width="3.3" stroke-linecap="butt"/>
<line x1="678.30" y1="1075.30" x2="678.30" y2="1080.30" stroke="#000" stroke-width="3.3" stroke-linecap="butt"/>
<line x1="668.80" y1="1075.30" x2="687.80" y2="1075.30" stroke="#000" stroke-width="3.3" stroke-linecap="butt"/>
<line x1="668.80" y1="1080.30" x2="687.80" y2="1080.30" stroke="#000" stroke-width="3.3" stroke-linecap="butt"/>
<circle cx="735.10" cy="1046.90" r="8.4" fill="#ffffff" stroke="#000" stroke-width="3.2"/>
<circle cx="741.20" cy="1036.30" r="8.4" fill="#ffffff" stroke="#000" stroke-width="3.2"/>
<circle cx="730.60" cy="1028.80" r="8.4" fill="#ffffff" stroke="#000" stroke-width="3.2"/>
<line x1="716.60" y1="1036.90" x2="753.60" y2="1036.90" stroke="#000" stroke-width="3.3" stroke-linecap="butt"/>
<line x1="735.10" y1="1031.90" x2="735.10" y2="1041.90" stroke="#000" stroke-width="3.3" stroke-linecap="butt"/>
<line x1="725.60" y1="1031.90" x2="744.60" y2="1031.90" stroke="#000" stroke-width="3.3" stroke-linecap="butt"/>
<line x1="725.60" y1="1041.90" x2="744.60" y2="1041.90" stroke="#000" stroke-width="3.3" stroke-linecap="butt"/>
<circle cx="782.60" cy="821.10" r="8.55" fill="#000"/>
<circle cx="802.30" cy="801.40" r="8.55" fill="#000"/>
<circle cx="792.60" cy="780.20" r="8.55" fill="#000"/>
<line x1="773.80" y1="799.90" x2="810.80" y2="799.90" stroke="#000" stroke-width="3.3" stroke-linecap="butt"/>
<line x1="792.30" y1="787.90" x2="792.30" y2="811.90" stroke="#000" stroke-width="3.3" stroke-linecap="butt"/>
<line x1="782.80" y1="787.90" x2="801.80" y2="787.90" stroke="#000" stroke-width="3.3" stroke-linecap="butt"/>
<line x1="782.80" y1="811.90" x2="801.80" y2="811.90" stroke="#000" stroke-width="3.3" stroke-linecap="butt"/>
<circle cx="849.50" cy="1037.80" r="8.4" fill="#858585" stroke="#000" stroke-width="3.2"/>
<circle cx="855.30" cy="1027.20" r="8.4" fill="#858585" stroke="#000" stroke-width="3.2"/>
<circle cx="844.10" cy="1018.80" r="8.4" fill="#858585" stroke="#000" stroke-width="3.2"/>
<line x1="830.90" y1="1027.80" x2="867.90" y2="1027.80" stroke="#000" stroke-width="3.3" stroke-linecap="butt"/>
<line x1="849.40" y1="1022.30" x2="849.40" y2="1033.30" stroke="#000" stroke-width="3.3" stroke-linecap="butt"/>
<line x1="839.90" y1="1022.30" x2="858.90" y2="1022.30" stroke="#000" stroke-width="3.3" stroke-linecap="butt"/>
<line x1="839.90" y1="1033.30" x2="858.90" y2="1033.30" stroke="#000" stroke-width="3.3" stroke-linecap="butt"/>
<text xml:space="preserve" transform="translate(607.51,976.30) scale(0.84,1)" font-size="23.5" font-weight="normal" text-anchor="start" fill="#000" >&amp;</text>
<text xml:space="preserve" transform="translate(620.46,986.45)" font-size="27" font-weight="normal" text-anchor="start" fill="#000" >*</text>
<text xml:space="preserve" transform="translate(780.01,768.00) scale(0.84,1)" font-size="23.5" font-weight="normal" text-anchor="start" fill="#000" >&amp;</text>
<text xml:space="preserve" transform="translate(792.96,778.15)" font-size="27" font-weight="normal" text-anchor="start" fill="#000" >*</text>
<line x1="526.90" y1="759.80" x2="526.90" y2="1101.50" stroke="#000" stroke-width="3.4" stroke-linecap="butt"/>
<line x1="515.00" y1="1100.00" x2="891.00" y2="1100.00" stroke="#000" stroke-width="3.4" stroke-linecap="butt"/>
<line x1="515.00" y1="1100.00" x2="526.90" y2="1100.00" stroke="#000" stroke-width="3.4" stroke-linecap="butt"/>
<text xml:space="preserve" transform="translate(510.50,1108.90) scale(0.9259,1)" font-size="27.54" font-weight="bold" text-anchor="end" fill="#000" >0</text>
<line x1="515.00" y1="1015.30" x2="526.90" y2="1015.30" stroke="#000" stroke-width="3.4" stroke-linecap="butt"/>
<text xml:space="preserve" transform="translate(510.50,1024.20) scale(0.9259,1)" font-size="27.54" font-weight="bold" text-anchor="end" fill="#000" >2</text>
<line x1="515.00" y1="930.70" x2="526.90" y2="930.70" stroke="#000" stroke-width="3.4" stroke-linecap="butt"/>
<text xml:space="preserve" transform="translate(510.50,939.60) scale(0.9259,1)" font-size="27.54" font-weight="bold" text-anchor="end" fill="#000" >4</text>
<line x1="515.00" y1="846.00" x2="526.90" y2="846.00" stroke="#000" stroke-width="3.4" stroke-linecap="butt"/>
<text xml:space="preserve" transform="translate(510.50,854.90) scale(0.9259,1)" font-size="27.54" font-weight="bold" text-anchor="end" fill="#000" >6</text>
<line x1="515.00" y1="761.30" x2="526.90" y2="761.30" stroke="#000" stroke-width="3.4" stroke-linecap="butt"/>
<text xml:space="preserve" transform="translate(510.50,770.20) scale(0.9259,1)" font-size="27.54" font-weight="bold" text-anchor="end" fill="#000" >8</text>
<line x1="562.60" y1="1100.00" x2="562.60" y2="1110.00" stroke="#000" stroke-width="3.4" stroke-linecap="butt"/>
<text xml:space="preserve" transform="translate(568.20,1135.90) rotate(-45) scale(0.9259,1)" font-size="28.08" font-weight="bold" text-anchor="end" fill="#000" >CNT</text>
<line x1="620.70" y1="1100.00" x2="620.70" y2="1110.00" stroke="#000" stroke-width="3.4" stroke-linecap="butt"/>
<text xml:space="preserve" transform="translate(626.30,1135.90) rotate(-45) scale(0.9259,1)" font-size="28.08" font-weight="bold" text-anchor="end" fill="#000" >Etop 6 hr</text>
<line x1="677.60" y1="1100.00" x2="677.60" y2="1110.00" stroke="#000" stroke-width="3.4" stroke-linecap="butt"/>
<text xml:space="preserve" transform="translate(683.20,1135.90) rotate(-45) scale(0.9259,1)" font-size="28.08" font-weight="bold" text-anchor="end" fill="#000" >Etop+CR8 6 hr</text>
<line x1="735.10" y1="1100.00" x2="735.10" y2="1110.00" stroke="#000" stroke-width="3.4" stroke-linecap="butt"/>
<text xml:space="preserve" transform="translate(740.70,1135.90) rotate(-45) scale(0.9259,1)" font-size="28.08" font-weight="bold" text-anchor="end" fill="#000" >CNT 24h</text>
<line x1="792.00" y1="1100.00" x2="792.00" y2="1110.00" stroke="#000" stroke-width="3.4" stroke-linecap="butt"/>
<text xml:space="preserve" transform="translate(797.60,1135.90) rotate(-45) scale(0.9259,1)" font-size="28.08" font-weight="bold" text-anchor="end" fill="#000" >Etop 24 hr</text>
<line x1="849.20" y1="1100.00" x2="849.20" y2="1110.00" stroke="#000" stroke-width="3.4" stroke-linecap="butt"/>
<text xml:space="preserve" transform="translate(854.80,1135.90) rotate(-45) scale(0.9259,1)" font-size="28.08" font-weight="bold" text-anchor="end" fill="#000" >Etop+CR8 24hr</text>
<text xml:space="preserve" transform="translate(479.50,930.80) rotate(-90)" font-size="29.5" font-weight="bold" text-anchor="middle" fill="#000" textLength="198" lengthAdjust="spacingAndGlyphs" >Cytochrome  C</text>
<circle cx="1004.10" cy="1046.90" r="8.4" fill="#ffffff" stroke="#000" stroke-width="3.2"/>
<circle cx="1007.70" cy="1036.60" r="8.4" fill="#ffffff" stroke="#000" stroke-width="3.2"/>
<circle cx="1001.70" cy="1020.80" r="8.4" fill="#ffffff" stroke="#000" stroke-width="3.2"/>
<line x1="989.20" y1="1034.60" x2="1020.20" y2="1034.60" stroke="#000" stroke-width="3.3" stroke-linecap="butt"/>
<line x1="1004.70" y1="1028.00" x2="1004.70" y2="1041.20" stroke="#000" stroke-width="3.3" stroke-linecap="butt"/>
<line x1="996.70" y1="1028.00" x2="1012.70" y2="1028.00" stroke="#000" stroke-width="3.3" stroke-linecap="butt"/>
<line x1="996.70" y1="1041.20" x2="1012.70" y2="1041.20" stroke="#000" stroke-width="3.3" stroke-linecap="butt"/>
<circle cx="1051.00" cy="1051.50" r="8.55" fill="#000"/>
<circle cx="1054.90" cy="1046.90" r="8.55" fill="#000"/>
<circle cx="1048.00" cy="1040.90" r="8.55" fill="#000"/>
<line x1="1035.80" y1="1046.00" x2="1066.80" y2="1046.00" stroke="#000" stroke-width="3.3" stroke-linecap="butt"/>
<line x1="1051.30" y1="1043.00" x2="1051.30" y2="1049.00" stroke="#000" stroke-width="3.3" stroke-linecap="butt"/>
<line x1="1043.30" y1="1043.00" x2="1059.30" y2="1043.00" stroke="#000" stroke-width="3.3" stroke-linecap="butt"/>
<line x1="1043.30" y1="1049.00" x2="1059.30" y2="1049.00" stroke="#000" stroke-width="3.3" stroke-linecap="butt"/>
<circle cx="1098.50" cy="1056.00" r="8.4" fill="#858585" stroke="#000" stroke-width="3.2"/>
<circle cx="1102.50" cy="1053.00" r="8.4" fill="#858585" stroke="#000" stroke-width="3.2"/>
<circle cx="1094.90" cy="1049.90" r="8.4" fill="#858585" stroke="#000" stroke-width="3.2"/>
<line x1="1082.80" y1="1053.60" x2="1113.80" y2="1053.60" stroke="#000" stroke-width="3.3" stroke-linecap="butt"/>
<line x1="1098.30" y1="1051.60" x2="1098.30" y2="1055.60" stroke="#000" stroke-width="3.3" stroke-linecap="butt"/>
<line x1="1090.30" y1="1051.60" x2="1106.30" y2="1051.60" stroke="#000" stroke-width="3.3" stroke-linecap="butt"/>
<line x1="1090.30" y1="1055.60" x2="1106.30" y2="1055.60" stroke="#000" stroke-width="3.3" stroke-linecap="butt"/>
<circle cx="1144.80" cy="845.90" r="8.55" fill="#000"/>
<circle cx="1148.80" cy="839.80" r="8.55" fill="#000"/>
<circle cx="1141.80" cy="835.60" r="8.55" fill="#000"/>
<line x1="1129.70" y1="839.80" x2="1160.70" y2="839.80" stroke="#000" stroke-width="3.3" stroke-linecap="butt"/>
<line x1="1145.20" y1="836.80" x2="1145.20" y2="842.80" stroke="#000" stroke-width="3.3" stroke-linecap="butt"/>
<line x1="1137.20" y1="836.80" x2="1153.20" y2="836.80" stroke="#000" stroke-width="3.3" stroke-linecap="butt"/>
<line x1="1137.20" y1="842.80" x2="1153.20" y2="842.80" stroke="#000" stroke-width="3.3" stroke-linecap="butt"/>
<circle cx="1184.20" cy="988.10" r="8.4" fill="#858585" stroke="#000" stroke-width="3.2"/>
<circle cx="1204.50" cy="976.00" r="8.4" fill="#858585" stroke="#000" stroke-width="3.2"/>
<circle cx="1191.70" cy="958.80" r="8.4" fill="#858585" stroke="#000" stroke-width="3.2"/>
<line x1="1176.50" y1="974.50" x2="1207.50" y2="974.50" stroke="#000" stroke-width="3.3" stroke-linecap="butt"/>
<line x1="1192.00" y1="967.50" x2="1192.00" y2="981.50" stroke="#000" stroke-width="3.3" stroke-linecap="butt"/>
<line x1="1184.00" y1="967.50" x2="1200.00" y2="967.50" stroke="#000" stroke-width="3.3" stroke-linecap="butt"/>
<line x1="1184.00" y1="981.50" x2="1200.00" y2="981.50" stroke="#000" stroke-width="3.3" stroke-linecap="butt"/>
<circle cx="1238.70" cy="859.50" r="8.55" fill="#000"/>
<circle cx="1247.10" cy="813.50" r="8.55" fill="#000"/>
<circle cx="1225.60" cy="790.80" r="8.55" fill="#000"/>
<line x1="1223.50" y1="821.40" x2="1254.50" y2="821.40" stroke="#000" stroke-width="3.3" stroke-linecap="butt"/>
<line x1="1239.00" y1="800.40" x2="1239.00" y2="842.40" stroke="#000" stroke-width="3.3" stroke-linecap="butt"/>
<line x1="1231.00" y1="800.40" x2="1247.00" y2="800.40" stroke="#000" stroke-width="3.3" stroke-linecap="butt"/>
<line x1="1231.00" y1="842.40" x2="1247.00" y2="842.40" stroke="#000" stroke-width="3.3" stroke-linecap="butt"/>
<circle cx="1285.60" cy="1036.60" r="8.4" fill="#858585" stroke="#000" stroke-width="3.2"/>
<circle cx="1293.70" cy="976.90" r="8.4" fill="#858585" stroke="#000" stroke-width="3.2"/>
<circle cx="1272.90" cy="969.40" r="8.4" fill="#858585" stroke="#000" stroke-width="3.2"/>
<line x1="1270.10" y1="994.50" x2="1301.10" y2="994.50" stroke="#000" stroke-width="3.3" stroke-linecap="butt"/>
<line x1="1285.60" y1="973.50" x2="1285.60" y2="1015.50" stroke="#000" stroke-width="3.3" stroke-linecap="butt"/>
<line x1="1277.60" y1="973.50" x2="1293.60" y2="973.50" stroke="#000" stroke-width="3.3" stroke-linecap="butt"/>
<line x1="1277.60" y1="1015.50" x2="1293.60" y2="1015.50" stroke="#000" stroke-width="3.3" stroke-linecap="butt"/>
<text xml:space="preserve" transform="translate(1132.86,829.65)" font-size="27" font-weight="normal" text-anchor="start" fill="#000" >*</text>
<text xml:space="preserve" transform="translate(1143.61,821.50) scale(0.84,1)" font-size="23.5" font-weight="normal" text-anchor="start" fill="#000" >&amp;</text>
<text xml:space="preserve" transform="translate(1188.86,954.15)" font-size="27" font-weight="normal" text-anchor="start" fill="#000" >*</text>
<text xml:space="preserve" transform="translate(1229.46,788.55)" font-size="27" font-weight="normal" text-anchor="start" fill="#000" >*</text>
<text xml:space="preserve" transform="translate(1241.01,780.80) scale(0.84,1)" font-size="23.5" font-weight="normal" text-anchor="start" fill="#000" >&amp;</text>
<line x1="973.80" y1="759.00" x2="973.80" y2="1105.00" stroke="#000" stroke-width="3.4" stroke-linecap="butt"/>
<line x1="963.20" y1="1103.50" x2="1319.50" y2="1103.50" stroke="#000" stroke-width="3.4" stroke-linecap="butt"/>
<line x1="963.20" y1="1103.50" x2="973.80" y2="1103.50" stroke="#000" stroke-width="3.4" stroke-linecap="butt"/>
<text xml:space="preserve" transform="translate(959.50,1112.40) scale(0.9259,1)" font-size="27.54" font-weight="bold" text-anchor="end" fill="#000" >0</text>
<line x1="963.20" y1="1034.90" x2="973.80" y2="1034.90" stroke="#000" stroke-width="3.4" stroke-linecap="butt"/>
<text xml:space="preserve" transform="translate(959.50,1043.80) scale(0.9259,1)" font-size="27.54" font-weight="bold" text-anchor="end" fill="#000" >1</text>
<line x1="963.20" y1="966.30" x2="973.80" y2="966.30" stroke="#000" stroke-width="3.4" stroke-linecap="butt"/>
<text xml:space="preserve" transform="translate(959.50,975.20) scale(0.9259,1)" font-size="27.54" font-weight="bold" text-anchor="end" fill="#000" >2</text>
<line x1="963.20" y1="897.70" x2="973.80" y2="897.70" stroke="#000" stroke-width="3.4" stroke-linecap="butt"/>
<text xml:space="preserve" transform="translate(959.50,906.60) scale(0.9259,1)" font-size="27.54" font-weight="bold" text-anchor="end" fill="#000" >3</text>
<line x1="963.20" y1="829.10" x2="973.80" y2="829.10" stroke="#000" stroke-width="3.4" stroke-linecap="butt"/>
<text xml:space="preserve" transform="translate(959.50,838.00) scale(0.9259,1)" font-size="27.54" font-weight="bold" text-anchor="end" fill="#000" >4</text>
<line x1="963.20" y1="760.50" x2="973.80" y2="760.50" stroke="#000" stroke-width="3.4" stroke-linecap="butt"/>
<text xml:space="preserve" transform="translate(959.50,769.40) scale(0.9259,1)" font-size="27.54" font-weight="bold" text-anchor="end" fill="#000" >5</text>
<line x1="1004.70" y1="1103.50" x2="1004.70" y2="1113.50" stroke="#000" stroke-width="3.4" stroke-linecap="butt"/>
<text xml:space="preserve" transform="translate(1010.20,1138.70) rotate(-45) scale(0.9259,1)" font-size="28.08" font-weight="bold" text-anchor="end" fill="#000" >CNT</text>
<line x1="1051.60" y1="1103.50" x2="1051.60" y2="1113.50" stroke="#000" stroke-width="3.4" stroke-linecap="butt"/>
<text xml:space="preserve" transform="translate(1057.10,1138.70) rotate(-45) scale(0.9259,1)" font-size="28.08" font-weight="bold" text-anchor="end" fill="#000" >Etop 1 Hr</text>
<line x1="1098.50" y1="1103.50" x2="1098.50" y2="1113.50" stroke="#000" stroke-width="3.4" stroke-linecap="butt"/>
<text xml:space="preserve" transform="translate(1104.00,1138.70) rotate(-45) scale(0.9259,1)" font-size="28.08" font-weight="bold" text-anchor="end" fill="#000" >Etop+CR8 1 hr</text>
<line x1="1145.40" y1="1103.50" x2="1145.40" y2="1113.50" stroke="#000" stroke-width="3.4" stroke-linecap="butt"/>
<text xml:space="preserve" transform="translate(1150.90,1138.70) rotate(-45) scale(0.9259,1)" font-size="28.08" font-weight="bold" text-anchor="end" fill="#000" >Etop 6 hr</text>
<line x1="1191.70" y1="1103.50" x2="1191.70" y2="1113.50" stroke="#000" stroke-width="3.4" stroke-linecap="butt"/>
<text xml:space="preserve" transform="translate(1197.20,1138.70) rotate(-45) scale(0.9259,1)" font-size="28.08" font-weight="bold" text-anchor="end" fill="#000" >Etop+CR8 6 hr</text>
<line x1="1238.70" y1="1103.50" x2="1238.70" y2="1113.50" stroke="#000" stroke-width="3.4" stroke-linecap="butt"/>
<text xml:space="preserve" transform="translate(1244.20,1138.70) rotate(-45) scale(0.9259,1)" font-size="28.08" font-weight="bold" text-anchor="end" fill="#000" >Etop 24 hr</text>
<line x1="1285.60" y1="1103.50" x2="1285.60" y2="1113.50" stroke="#000" stroke-width="3.4" stroke-linecap="butt"/>
<text xml:space="preserve" transform="translate(1291.10,1138.70) rotate(-45) scale(0.9259,1)" font-size="28.08" font-weight="bold" text-anchor="end" fill="#000" >Etop+CR8 24 hr</text>
<text xml:space="preserve" transform="translate(931.00,932.40) rotate(-90)" font-size="29.5" font-weight="bold" text-anchor="middle" fill="#000" textLength="262" lengthAdjust="spacingAndGlyphs" >Cleaved  Caspase-9</text>
<circle cx="112.00" cy="1471.60" r="8.4" fill="#ffffff" stroke="#000" stroke-width="3.2"/>
<circle cx="133.20" cy="1458.60" r="8.4" fill="#ffffff" stroke="#000" stroke-width="3.2"/>
<circle cx="120.20" cy="1397.40" r="8.4" fill="#ffffff" stroke="#000" stroke-width="3.2"/>
<line x1="104.50" y1="1442.20" x2="135.50" y2="1442.20" stroke="#000" stroke-width="3.3" stroke-linecap="butt"/>
<line x1="120.00" y1="1419.50" x2="120.00" y2="1464.90" stroke="#000" stroke-width="3.3" stroke-linecap="butt"/>
<line x1="112.00" y1="1419.50" x2="128.00" y2="1419.50" stroke="#000" stroke-width="3.3" stroke-linecap="butt"/>
<line x1="112.00" y1="1464.90" x2="128.00" y2="1464.90" stroke="#000" stroke-width="3.3" stroke-linecap="butt"/>
<circle cx="180.10" cy="1424.70" r="8.55" fill="#000"/>
<circle cx="158.90" cy="1427.70" r="8.55" fill="#000"/>
<circle cx="167.10" cy="1392.90" r="8.55" fill="#000"/>
<line x1="151.40" y1="1414.70" x2="182.40" y2="1414.70" stroke="#000" stroke-width="3.3" stroke-linecap="butt"/>
<line x1="166.90" y1="1403.60" x2="166.90" y2="1425.80" stroke="#000" stroke-width="3.3" stroke-linecap="butt"/>
<line x1="158.90" y1="1403.60" x2="174.90" y2="1403.60" stroke="#000" stroke-width="3.3" stroke-linecap="butt"/>
<line x1="158.90" y1="1425.80" x2="174.90" y2="1425.80" stroke="#000" stroke-width="3.3" stroke-linecap="butt"/>
<circle cx="214.00" cy="1466.50" r="8.4" fill="#858585" stroke="#000" stroke-width="3.2"/>
<circle cx="214.00" cy="1437.40" r="8.4" fill="#858585" stroke="#000" stroke-width="3.2"/>
<circle cx="214.00" cy="1373.80" r="8.4" fill="#858585" stroke="#000" stroke-width="3.2"/>
<line x1="198.50" y1="1425.60" x2="229.50" y2="1425.60" stroke="#000" stroke-width="3.3" stroke-linecap="butt"/>
<line x1="214.00" y1="1397.90" x2="214.00" y2="1453.30" stroke="#000" stroke-width="3.3" stroke-linecap="butt"/>
<line x1="206.00" y1="1397.90" x2="222.00" y2="1397.90" stroke="#000" stroke-width="3.3" stroke-linecap="butt"/>
<line x1="206.00" y1="1453.30" x2="222.00" y2="1453.30" stroke="#000" stroke-width="3.3" stroke-linecap="butt"/>
<circle cx="261.20" cy="1473.70" r="8.55" fill="#000"/>
<circle cx="268.80" cy="1423.20" r="8.55" fill="#000"/>
<circle cx="248.20" cy="1423.20" r="8.55" fill="#000"/>
<line x1="245.80" y1="1439.80" x2="276.80" y2="1439.80" stroke="#000" stroke-width="3.3" stroke-linecap="butt"/>
<line x1="261.30" y1="1423.20" x2="261.30" y2="1456.40" stroke="#000" stroke-width="3.3" stroke-linecap="butt"/>
<line x1="253.30" y1="1423.20" x2="269.30" y2="1423.20" stroke="#000" stroke-width="3.3" stroke-linecap="butt"/>
<line x1="253.30" y1="1456.40" x2="269.30" y2="1456.40" stroke="#000" stroke-width="3.3" stroke-linecap="butt"/>
<circle cx="300.50" cy="1504.00" r="8.4" fill="#858585" stroke="#000" stroke-width="3.2"/>
<circle cx="321.40" cy="1492.80" r="8.4" fill="#858585" stroke="#000" stroke-width="3.2"/>
<circle cx="308.10" cy="1460.10" r="8.4" fill="#858585" stroke="#000" stroke-width="3.2"/>
<line x1="292.80" y1="1484.60" x2="323.80" y2="1484.60" stroke="#000" stroke-width="3.3" stroke-linecap="butt"/>
<line x1="308.30" y1="1472.10" x2="308.30" y2="1497.10" stroke="#000" stroke-width="3.3" stroke-linecap="butt"/>
<line x1="300.30" y1="1472.10" x2="316.30" y2="1472.10" stroke="#000" stroke-width="3.3" stroke-linecap="butt"/>
<line x1="300.30" y1="1497.10" x2="316.30" y2="1497.10" stroke="#000" stroke-width="3.3" stroke-linecap="butt"/>
<circle cx="355.60" cy="1629.00" r="8.55" fill="#000"/>
<circle cx="355.60" cy="1576.00" r="8.55" fill="#000"/>
<circle cx="355.60" cy="1523.70" r="8.55" fill="#000"/>
<line x1="340.10" y1="1576.00" x2="371.10" y2="1576.00" stroke="#000" stroke-width="3.3" stroke-linecap="butt"/>
<line x1="355.60" y1="1545.80" x2="355.60" y2="1606.20" stroke="#000" stroke-width="3.3" stroke-linecap="butt"/>
<line x1="347.60" y1="1545.80" x2="363.60" y2="1545.80" stroke="#000" stroke-width="3.3" stroke-linecap="butt"/>
<line x1="347.60" y1="1606.20" x2="363.60" y2="1606.20" stroke="#000" stroke-width="3.3" stroke-linecap="butt"/>
<circle cx="402.50" cy="1541.80" r="8.4" fill="#858585" stroke="#000" stroke-width="3.2"/>
<circle cx="402.50" cy="1499.70" r="8.4" fill="#858585" stroke="#000" stroke-width="3.2"/>
<circle cx="402.50" cy="1473.10" r="8.4" fill="#858585" stroke="#000" stroke-width="3.2"/>
<line x1="387.00" y1="1505.50" x2="418.00" y2="1505.50" stroke="#000" stroke-width="3.3" stroke-linecap="butt"/>
<line x1="402.50" y1="1484.90" x2="402.50" y2="1526.10" stroke="#000" stroke-width="3.3" stroke-linecap="butt"/>
<line x1="394.50" y1="1484.90" x2="410.50" y2="1484.90" stroke="#000" stroke-width="3.3" stroke-linecap="butt"/>
<line x1="394.50" y1="1526.10" x2="410.50" y2="1526.10" stroke="#000" stroke-width="3.3" stroke-linecap="butt"/>
<text xml:space="preserve" transform="translate(350.36,1517.85)" font-size="27" font-weight="normal" text-anchor="start" fill="#000" >*</text>
<text xml:space="preserve" transform="translate(305.56,1522.35)" font-size="27" font-weight="normal" text-anchor="start" fill="#000" >*</text>
<line x1="88.70" y1="1325.40" x2="88.70" y2="1672.90" stroke="#000" stroke-width="3.4" stroke-linecap="butt"/>
<line x1="79.30" y1="1671.40" x2="437.30" y2="1671.40" stroke="#000" stroke-width="3.4" stroke-linecap="butt"/>
<line x1="79.30" y1="1671.40" x2="88.70" y2="1671.40" stroke="#000" stroke-width="3.4" stroke-linecap="butt"/>
<text xml:space="preserve" transform="translate(73.50,1680.30) scale(0.9259,1)" font-size="27.54" font-weight="bold" text-anchor="end" fill="#000" >0.0</text>
<line x1="79.30" y1="1556.60" x2="88.70" y2="1556.60" stroke="#000" stroke-width="3.4" stroke-linecap="butt"/>
<text xml:space="preserve" transform="translate(73.50,1565.50) scale(0.9259,1)" font-size="27.54" font-weight="bold" text-anchor="end" fill="#000" >0.5</text>
<line x1="79.30" y1="1441.80" x2="88.70" y2="1441.80" stroke="#000" stroke-width="3.4" stroke-linecap="butt"/>
<text xml:space="preserve" transform="translate(73.50,1450.70) scale(0.9259,1)" font-size="27.54" font-weight="bold" text-anchor="end" fill="#000" >1.0</text>
<line x1="79.30" y1="1326.90" x2="88.70" y2="1326.90" stroke="#000" stroke-width="3.4" stroke-linecap="butt"/>
<text xml:space="preserve" transform="translate(73.50,1335.80) scale(0.9259,1)" font-size="27.54" font-weight="bold" text-anchor="end" fill="#000" >1.5</text>
<line x1="119.60" y1="1671.40" x2="119.60" y2="1681.40" stroke="#000" stroke-width="3.4" stroke-linecap="butt"/>
<text xml:space="preserve" transform="translate(125.40,1707.30) rotate(-45) scale(0.9259,1)" font-size="28.08" font-weight="bold" text-anchor="end" fill="#000" >CNT</text>
<line x1="167.10" y1="1671.40" x2="167.10" y2="1681.40" stroke="#000" stroke-width="3.4" stroke-linecap="butt"/>
<text xml:space="preserve" transform="translate(172.90,1707.30) rotate(-45) scale(0.9259,1)" font-size="28.08" font-weight="bold" text-anchor="end" fill="#000" >Etop 1 Hr</text>
<line x1="214.00" y1="1671.40" x2="214.00" y2="1681.40" stroke="#000" stroke-width="3.4" stroke-linecap="butt"/>
<text xml:space="preserve" transform="translate(219.80,1707.30) rotate(-45) scale(0.9259,1)" font-size="28.08" font-weight="bold" text-anchor="end" fill="#000" >Etop+CR8 1 hr</text>
<line x1="261.20" y1="1671.40" x2="261.20" y2="1681.40" stroke="#000" stroke-width="3.4" stroke-linecap="butt"/>
<text xml:space="preserve" transform="translate(267.00,1707.30) rotate(-45) scale(0.9259,1)" font-size="28.08" font-weight="bold" text-anchor="end" fill="#000" >Etop 6 hr</text>
<line x1="308.10" y1="1671.40" x2="308.10" y2="1681.40" stroke="#000" stroke-width="3.4" stroke-linecap="butt"/>
<text xml:space="preserve" transform="translate(313.90,1707.30) rotate(-45) scale(0.9259,1)" font-size="28.08" font-weight="bold" text-anchor="end" fill="#000" >Etop+CR8 6 hr</text>
<line x1="355.60" y1="1671.40" x2="355.60" y2="1681.40" stroke="#000" stroke-width="3.4" stroke-linecap="butt"/>
<text xml:space="preserve" transform="translate(361.40,1707.30) rotate(-45) scale(0.9259,1)" font-size="28.08" font-weight="bold" text-anchor="end" fill="#000" >Etop 24 hr</text>
<line x1="402.50" y1="1671.40" x2="402.50" y2="1681.40" stroke="#000" stroke-width="3.4" stroke-linecap="butt"/>
<text xml:space="preserve" transform="translate(408.30,1707.30) rotate(-45) scale(0.9259,1)" font-size="28.08" font-weight="bold" text-anchor="end" fill="#000" >Etop+CR8 24 hr</text>
<text xml:space="preserve" transform="translate(25.50,1501.00) rotate(-90)" font-size="29.5" font-weight="bold" text-anchor="middle" fill="#000" textLength="80.5" lengthAdjust="spacingAndGlyphs" >Apaf-1</text>
<circle cx="557.10" cy="1450.40" r="8.4" fill="#ffffff" stroke="#000" stroke-width="3.2"/>
<circle cx="560.20" cy="1440.40" r="8.4" fill="#ffffff" stroke="#000" stroke-width="3.2"/>
<circle cx="554.10" cy="1430.70" r="8.4" fill="#ffffff" stroke="#000" stroke-width="3.2"/>
<line x1="541.50" y1="1440.40" x2="572.50" y2="1440.40" stroke="#000" stroke-width="3.3" stroke-linecap="butt"/>
<line x1="557.00" y1="1436.40" x2="557.00" y2="1444.40" stroke="#000" stroke-width="3.3" stroke-linecap="butt"/>
<line x1="549.00" y1="1436.40" x2="565.00" y2="1436.40" stroke="#000" stroke-width="3.3" stroke-linecap="butt"/>
<line x1="549.00" y1="1444.40" x2="565.00" y2="1444.40" stroke="#000" stroke-width="3.3" stroke-linecap="butt"/>
<circle cx="604.30" cy="1451.00" r="8.55" fill="#000"/>
<circle cx="608.00" cy="1442.80" r="8.55" fill="#000"/>
<circle cx="601.90" cy="1442.20" r="8.55" fill="#000"/>
<line x1="588.70" y1="1445.90" x2="619.70" y2="1445.90" stroke="#000" stroke-width="3.3" stroke-linecap="butt"/>
<line x1="604.20" y1="1443.90" x2="604.20" y2="1447.90" stroke="#000" stroke-width="3.3" stroke-linecap="butt"/>
<line x1="596.20" y1="1443.90" x2="612.20" y2="1443.90" stroke="#000" stroke-width="3.3" stroke-linecap="butt"/>
<line x1="596.20" y1="1447.90" x2="612.20" y2="1447.90" stroke="#000" stroke-width="3.3" stroke-linecap="butt"/>
<circle cx="651.90" cy="1451.90" r="8.4" fill="#858585" stroke="#000" stroke-width="3.2"/>
<circle cx="655.50" cy="1437.40" r="8.4" fill="#858585" stroke="#000" stroke-width="3.2"/>
<circle cx="648.80" cy="1430.70" r="8.4" fill="#858585" stroke="#000" stroke-width="3.2"/>
<line x1="636.10" y1="1439.80" x2="667.10" y2="1439.80" stroke="#000" stroke-width="3.3" stroke-linecap="butt"/>
<line x1="651.60" y1="1434.80" x2="651.60" y2="1444.80" stroke="#000" stroke-width="3.3" stroke-linecap="butt"/>
<line x1="643.60" y1="1434.80" x2="659.60" y2="1434.80" stroke="#000" stroke-width="3.3" stroke-linecap="butt"/>
<line x1="643.60" y1="1444.80" x2="659.60" y2="1444.80" stroke="#000" stroke-width="3.3" stroke-linecap="butt"/>
<circle cx="698.20" cy="1544.20" r="8.55" fill="#000"/>
<circle cx="701.80" cy="1540.60" r="8.55" fill="#000"/>
<circle cx="695.70" cy="1525.50" r="8.55" fill="#000"/>
<line x1="683.30" y1="1538.20" x2="714.30" y2="1538.20" stroke="#000" stroke-width="3.3" stroke-linecap="butt"/>
<line x1="698.80" y1="1533.20" x2="698.80" y2="1543.20" stroke="#000" stroke-width="3.3" stroke-linecap="butt"/>
<line x1="690.80" y1="1533.20" x2="706.80" y2="1533.20" stroke="#000" stroke-width="3.3" stroke-linecap="butt"/>
<line x1="690.80" y1="1543.20" x2="706.80" y2="1543.20" stroke="#000" stroke-width="3.3" stroke-linecap="butt"/>
<circle cx="746.30" cy="1556.30" r="8.4" fill="#858585" stroke="#000" stroke-width="3.2"/>
<circle cx="749.60" cy="1539.70" r="8.4" fill="#858585" stroke="#000" stroke-width="3.2"/>
<circle cx="743.60" cy="1539.70" r="8.4" fill="#858585" stroke="#000" stroke-width="3.2"/>
<line x1="730.50" y1="1545.10" x2="761.50" y2="1545.10" stroke="#000" stroke-width="3.3" stroke-linecap="butt"/>
<line x1="746.00" y1="1540.10" x2="746.00" y2="1550.10" stroke="#000" stroke-width="3.3" stroke-linecap="butt"/>
<line x1="738.00" y1="1540.10" x2="754.00" y2="1540.10" stroke="#000" stroke-width="3.3" stroke-linecap="butt"/>
<line x1="738.00" y1="1550.10" x2="754.00" y2="1550.10" stroke="#000" stroke-width="3.3" stroke-linecap="butt"/>
<circle cx="793.20" cy="1494.90" r="8.55" fill="#000"/>
<circle cx="801.70" cy="1457.40" r="8.55" fill="#000"/>
<circle cx="780.50" cy="1431.60" r="8.55" fill="#000"/>
<line x1="778.00" y1="1461.60" x2="809.00" y2="1461.60" stroke="#000" stroke-width="3.3" stroke-linecap="butt"/>
<line x1="793.50" y1="1443.00" x2="793.50" y2="1480.20" stroke="#000" stroke-width="3.3" stroke-linecap="butt"/>
<line x1="785.50" y1="1443.00" x2="801.50" y2="1443.00" stroke="#000" stroke-width="3.3" stroke-linecap="butt"/>
<line x1="785.50" y1="1480.20" x2="801.50" y2="1480.20" stroke="#000" stroke-width="3.3" stroke-linecap="butt"/>
<circle cx="840.40" cy="1610.80" r="8.4" fill="#858585" stroke="#000" stroke-width="3.2"/>
<circle cx="842.50" cy="1606.30" r="8.4" fill="#858585" stroke="#000" stroke-width="3.2"/>
<circle cx="838.00" cy="1606.30" r="8.4" fill="#858585" stroke="#000" stroke-width="3.2"/>
<line x1="825.10" y1="1607.80" x2="856.10" y2="1607.80" stroke="#000" stroke-width="3.3" stroke-linecap="butt"/>
<line x1="840.60" y1="1606.30" x2="840.60" y2="1609.30" stroke="#000" stroke-width="3.3" stroke-linecap="butt"/>
<line x1="832.60" y1="1606.30" x2="848.60" y2="1606.30" stroke="#000" stroke-width="3.3" stroke-linecap="butt"/>
<line x1="832.60" y1="1609.30" x2="848.60" y2="1609.30" stroke="#000" stroke-width="3.3" stroke-linecap="butt"/>
<text xml:space="preserve" transform="translate(695.06,1521.75)" font-size="27" font-weight="normal" text-anchor="start" fill="#000" >*</text>
<text xml:space="preserve" transform="translate(741.96,1533.85)" font-size="27" font-weight="normal" text-anchor="start" fill="#000" >*</text>
<text xml:space="preserve" transform="translate(789.01,1422.70) scale(0.84,1)" font-size="23.5" font-weight="normal" text-anchor="start" fill="#000" >&amp;</text>
<text xml:space="preserve" transform="translate(835.76,1601.05)" font-size="27" font-weight="normal" text-anchor="start" fill="#000" >*</text>
<line x1="526.30" y1="1323.90" x2="526.30" y2="1672.00" stroke="#000" stroke-width="3.4" stroke-linecap="butt"/>
<line x1="516.30" y1="1670.50" x2="875.20" y2="1670.50" stroke="#000" stroke-width="3.4" stroke-linecap="butt"/>
<line x1="516.30" y1="1670.50" x2="526.30" y2="1670.50" stroke="#000" stroke-width="3.4" stroke-linecap="butt"/>
<text xml:space="preserve" transform="translate(511.00,1679.40) scale(0.9259,1)" font-size="27.54" font-weight="bold" text-anchor="end" fill="#000" >0.0</text>
<line x1="516.30" y1="1555.50" x2="526.30" y2="1555.50" stroke="#000" stroke-width="3.4" stroke-linecap="butt"/>
<text xml:space="preserve" transform="translate(511.00,1564.40) scale(0.9259,1)" font-size="27.54" font-weight="bold" text-anchor="end" fill="#000" >0.5</text>
<line x1="516.30" y1="1440.40" x2="526.30" y2="1440.40" stroke="#000" stroke-width="3.4" stroke-linecap="butt"/>
<text xml:space="preserve" transform="translate(511.00,1449.30) scale(0.9259,1)" font-size="27.54" font-weight="bold" text-anchor="end" fill="#000" >1.0</text>
<line x1="516.30" y1="1325.40" x2="526.30" y2="1325.40" stroke="#000" stroke-width="3.4" stroke-linecap="butt"/>
<text xml:space="preserve" transform="translate(511.00,1334.30) scale(0.9259,1)" font-size="27.54" font-weight="bold" text-anchor="end" fill="#000" >1.5</text>
<line x1="557.40" y1="1670.50" x2="557.40" y2="1680.50" stroke="#000" stroke-width="3.4" stroke-linecap="butt"/>
<text xml:space="preserve" transform="translate(563.20,1706.40) rotate(-45) scale(0.9259,1)" font-size="28.08" font-weight="bold" text-anchor="end" fill="#000" >CNT</text>
<line x1="604.30" y1="1670.50" x2="604.30" y2="1680.50" stroke="#000" stroke-width="3.4" stroke-linecap="butt"/>
<text xml:space="preserve" transform="translate(610.10,1706.40) rotate(-45) scale(0.9259,1)" font-size="28.08" font-weight="bold" text-anchor="end" fill="#000" >Etop 1 Hr</text>
<line x1="651.90" y1="1670.50" x2="651.90" y2="1680.50" stroke="#000" stroke-width="3.4" stroke-linecap="butt"/>
<text xml:space="preserve" transform="translate(657.70,1706.40) rotate(-45) scale(0.9259,1)" font-size="28.08" font-weight="bold" text-anchor="end" fill="#000" >Etop+CR8 1 hr</text>
<line x1="698.80" y1="1670.50" x2="698.80" y2="1680.50" stroke="#000" stroke-width="3.4" stroke-linecap="butt"/>
<text xml:space="preserve" transform="translate(704.60,1706.40) rotate(-45) scale(0.9259,1)" font-size="28.08" font-weight="bold" text-anchor="end" fill="#000" >Etop 6 hr</text>
<line x1="746.30" y1="1670.50" x2="746.30" y2="1680.50" stroke="#000" stroke-width="3.4" stroke-linecap="butt"/>
<text xml:space="preserve" transform="translate(752.10,1706.40) rotate(-45) scale(0.9259,1)" font-size="28.08" font-weight="bold" text-anchor="end" fill="#000" >Etop+CR8 6 hr</text>
<line x1="793.50" y1="1670.50" x2="793.50" y2="1680.50" stroke="#000" stroke-width="3.4" stroke-linecap="butt"/>
<text xml:space="preserve" transform="translate(799.30,1706.40) rotate(-45) scale(0.9259,1)" font-size="28.08" font-weight="bold" text-anchor="end" fill="#000" >Etop 24 hr</text>
<line x1="840.40" y1="1670.50" x2="840.40" y2="1680.50" stroke="#000" stroke-width="3.4" stroke-linecap="butt"/>
<text xml:space="preserve" transform="translate(846.20,1706.40) rotate(-45) scale(0.9259,1)" font-size="28.08" font-weight="bold" text-anchor="end" fill="#000" >Etop+CR8 24 hr</text>
<text xml:space="preserve" transform="translate(463.00,1498.50) rotate(-90)" font-size="29.5" font-weight="bold" text-anchor="middle" fill="#000" textLength="66" lengthAdjust="spacingAndGlyphs" >Mcl-1</text>
<defs>
<filter id="b0" x="-20%" y="-100%" width="140%" height="300%"><feGaussianBlur stdDeviation="1.1"/></filter>
<filter id="b1" x="-20%" y="-100%" width="140%" height="300%"><feGaussianBlur stdDeviation="1.7"/></filter>
<filter id="b2" x="-20%" y="-100%" width="140%" height="300%"><feGaussianBlur stdDeviation="2.6"/></filter>
<filter id="b3" x="-30%" y="-100%" width="160%" height="300%"><feGaussianBlur stdDeviation="4"/></filter>
<linearGradient id="gApaf" x1="0" x2="1" y1="0" y2="0">
<stop offset="0" stop-color="#fbfbfb"/><stop offset="0.66" stop-color="#f8f8f8"/><stop offset="0.74" stop-color="#ebebeb"/><stop offset="0.88" stop-color="#e2e2e2"/><stop offset="1" stop-color="#e6e6e6"/>
</linearGradient>
</defs>
<text xml:space="preserve" transform="translate(1.20,1918.40) scale(0.7,1)" font-size="41" font-weight="normal" text-anchor="start" fill="#000" >E</text>
<rect x="210.70" y="1890.00" width="766.10" height="38.30" fill="#fff" stroke="#000" stroke-width="1.4" />
<line x1="338.38" y1="1890.00" x2="338.38" y2="1928.30" stroke="#000" stroke-width="1.2" stroke-linecap="butt"/>
<line x1="466.07" y1="1890.00" x2="466.07" y2="1928.30" stroke="#000" stroke-width="1.2" stroke-linecap="butt"/>
<line x1="593.75" y1="1890.00" x2="593.75" y2="1928.30" stroke="#000" stroke-width="1.2" stroke-linecap="butt"/>
<line x1="721.43" y1="1890.00" x2="721.43" y2="1928.30" stroke="#000" stroke-width="1.2" stroke-linecap="butt"/>
<line x1="849.12" y1="1890.00" x2="849.12" y2="1928.30" stroke="#000" stroke-width="1.2" stroke-linecap="butt"/>
<text xml:space="preserve" transform="translate(275.54,1920.60)" font-size="25" font-weight="bold" text-anchor="middle" fill="#000" textLength="51.6" lengthAdjust="spacingAndGlyphs" >CNT 6h</text>
<text xml:space="preserve" transform="translate(403.22,1920.60)" font-size="25" font-weight="bold" text-anchor="middle" fill="#000" textLength="55.6" lengthAdjust="spacingAndGlyphs" >Etop 6h</text>
<text xml:space="preserve" transform="translate(530.91,1920.60)" font-size="25" font-weight="bold" text-anchor="middle" fill="#000" textLength="93.2" lengthAdjust="spacingAndGlyphs" >CR8+Etop 6h</text>
<text xml:space="preserve" transform="translate(658.59,1920.60)" font-size="25" font-weight="bold" text-anchor="middle" fill="#000" textLength="61.3" lengthAdjust="spacingAndGlyphs" >CNT 24h</text>
<text xml:space="preserve" transform="translate(786.27,1920.60)" font-size="25" font-weight="bold" text-anchor="middle" fill="#000" textLength="65" lengthAdjust="spacingAndGlyphs" >Etop 24h</text>
<text xml:space="preserve" transform="translate(913.96,1920.60)" font-size="25" font-weight="bold" text-anchor="middle" fill="#000" textLength="101.6" lengthAdjust="spacingAndGlyphs" >CR8+Etop 24h</text>
<clipPath id="c1"><rect x="209.7" y="1930.3" width="767.2" height="40.7"/></clipPath>
<g clip-path="url(#c1)">
<rect x="209.70" y="1930.30" width="767.20" height="40.70" fill="#f8f8f8" stroke="none" stroke-width="1" />
<rect x="210.2" y="1940.0" width="32.0" height="15.0" rx="7.5" fill="#000" opacity="0.13" filter="url(#b1)"/>
<rect x="210.2" y="1952.5" width="32.0" height="4.0" rx="2.0" fill="#000" opacity="0.16" filter="url(#b1)" transform="rotate(2 226.2 1954.5)"/>
<rect x="251.8" y="1940.0" width="32.0" height="15.0" rx="7.5" fill="#000" opacity="0.13" filter="url(#b1)"/>
<rect x="251.8" y="1953.5" width="32.0" height="4.0" rx="2.0" fill="#000" opacity="0.16" filter="url(#b1)" transform="rotate(2 267.8 1955.5)"/>
<rect x="294.4" y="1940.0" width="32.0" height="15.0" rx="7.5" fill="#000" opacity="0.13" filter="url(#b1)"/>
<rect x="294.4" y="1953.5" width="32.0" height="4.0" rx="2.0" fill="#000" opacity="0.16" filter="url(#b1)" transform="rotate(2 310.4 1955.5)"/>
<rect x="336.8" y="1949.4" width="34.0" height="7.0" rx="3.5" fill="#000" opacity="0.38" filter="url(#b1)" transform="rotate(-2 353.8 1952.9)"/>
<rect x="336.3" y="1939.7" width="35.0" height="9.5" rx="4.8" fill="#000" opacity="1" filter="url(#b0)" transform="rotate(-2 353.8 1944.4)"/>
<rect x="379.1" y="1948.2" width="34.0" height="7.0" rx="3.5" fill="#000" opacity="0.38" filter="url(#b1)" transform="rotate(-2 396.1 1951.7)"/>
<rect x="378.1" y="1938.5" width="36.0" height="9.5" rx="4.8" fill="#000" opacity="1" filter="url(#b0)" transform="rotate(-2 396.1 1943.2)"/>
<rect x="423.2" y="1946.7" width="34.0" height="7.0" rx="3.5" fill="#000" opacity="0.38" filter="url(#b1)" transform="rotate(-2 440.2 1950.2)"/>
<rect x="421.7" y="1937.0" width="37.0" height="9.5" rx="4.8" fill="#000" opacity="1" filter="url(#b0)" transform="rotate(-2 440.2 1941.7)"/>
<rect x="466.8" y="1938.0" width="34.0" height="14.0" rx="7.0" fill="#000" opacity="0.11" filter="url(#b1)"/>
<rect x="466.8" y="1949.0" width="34.0" height="4.0" rx="2.0" fill="#000" opacity="0.14" filter="url(#b1)" transform="rotate(-2 483.8 1951.0)"/>
<rect x="511.6" y="1937.3" width="34.0" height="14.0" rx="7.0" fill="#000" opacity="0.11" filter="url(#b1)"/>
<rect x="511.6" y="1948.0" width="34.0" height="4.0" rx="2.0" fill="#000" opacity="0.14" filter="url(#b1)" transform="rotate(-2 528.6 1950.0)"/>
<rect x="555.2" y="1936.6" width="34.0" height="14.0" rx="7.0" fill="#000" opacity="0.11" filter="url(#b1)"/>
<rect x="555.2" y="1947.0" width="34.0" height="4.0" rx="2.0" fill="#000" opacity="0.14" filter="url(#b1)" transform="rotate(-2 572.2 1949.0)"/>
<rect x="599.1" y="1937.0" width="35.0" height="13.0" rx="6.5" fill="#000" opacity="0.13" filter="url(#b1)"/>
<rect x="599.6" y="1945.0" width="34.0" height="4.0" rx="2.0" fill="#000" opacity="0.1" filter="url(#b1)"/>
<rect x="599.6" y="1938.2" width="34.0" height="3.5" rx="1.8" fill="#000" opacity="0.0" filter="url(#b1)"/>
<rect x="643.2" y="1939.0" width="35.0" height="13.0" rx="6.5" fill="#000" opacity="0.13" filter="url(#b1)"/>
<rect x="643.7" y="1947.0" width="34.0" height="4.0" rx="2.0" fill="#000" opacity="0.18" filter="url(#b1)"/>
<rect x="643.7" y="1940.2" width="34.0" height="3.5" rx="1.8" fill="#000" opacity="0.15" filter="url(#b1)"/>
<rect x="686.8" y="1940.5" width="35.0" height="13.0" rx="6.5" fill="#000" opacity="0.13" filter="url(#b1)"/>
<rect x="687.3" y="1948.5" width="34.0" height="4.0" rx="2.0" fill="#000" opacity="0.1" filter="url(#b1)"/>
<rect x="687.3" y="1941.8" width="34.0" height="3.5" rx="1.8" fill="#000" opacity="0.0" filter="url(#b1)"/>
<rect x="728.2" y="1940.6" width="36.0" height="8.6" rx="4.3" fill="#000" opacity="1" filter="url(#b0)" transform="rotate(2 746.2 1944.9)"/>
<rect x="728.0" y="1950.0" width="36.5" height="9.0" rx="4.5" fill="#000" opacity="1" filter="url(#b0)" transform="rotate(2 746.2 1954.5)"/>
<rect x="729.2" y="1943.7" width="34.0" height="12.0" rx="6.0" fill="#000" opacity="0.75" filter="url(#b0)" transform="rotate(2 746.2 1949.7)"/>
<rect x="769.3" y="1942.8" width="36.0" height="8.6" rx="4.3" fill="#000" opacity="1" filter="url(#b0)" transform="rotate(2 787.3 1947.1)"/>
<rect x="769.0" y="1952.2" width="36.5" height="9.0" rx="4.5" fill="#000" opacity="1" filter="url(#b0)" transform="rotate(2 787.3 1956.7)"/>
<rect x="770.3" y="1945.9" width="34.0" height="12.0" rx="6.0" fill="#000" opacity="0.75" filter="url(#b0)" transform="rotate(2 787.3 1951.9)"/>
<rect x="809.3" y="1946.2" width="36.0" height="8.6" rx="4.3" fill="#000" opacity="1" filter="url(#b0)" transform="rotate(2 827.3 1950.5)"/>
<rect x="809.0" y="1955.6" width="36.5" height="9.0" rx="4.5" fill="#000" opacity="1" filter="url(#b0)" transform="rotate(2 827.3 1960.1)"/>
<rect x="810.3" y="1949.3" width="34.0" height="12.0" rx="6.0" fill="#000" opacity="0.75" filter="url(#b0)" transform="rotate(2 827.3 1955.3)"/>
<rect x="850.7" y="1950.0" width="33.0" height="11.0" rx="5.5" fill="#000" opacity="0.24" filter="url(#b1)"/>
<rect x="850.7" y="1960.0" width="33.0" height="5.0" rx="2.5" fill="#000" opacity="0.85" filter="url(#b0)" transform="rotate(2 867.2 1962.5)"/>
<rect x="891.9" y="1951.2" width="33.0" height="11.0" rx="5.5" fill="#000" opacity="0.24" filter="url(#b1)"/>
<rect x="891.9" y="1961.2" width="33.0" height="5.0" rx="2.5" fill="#000" opacity="0.85" filter="url(#b0)" transform="rotate(2 908.4 1963.7)"/>
<rect x="933.1" y="1951.5" width="33.0" height="11.0" rx="5.5" fill="#000" opacity="0.24" filter="url(#b1)"/>
<rect x="933.1" y="1961.5" width="33.0" height="5.0" rx="2.5" fill="#000" opacity="0.85" filter="url(#b0)" transform="rotate(2 949.6 1964.0)"/>
</g>
<clipPath id="c2"><rect x="209.7" y="1973.4" width="767.2" height="36.8"/></clipPath>
<g clip-path="url(#c2)">
<rect x="209.70" y="1973.40" width="767.20" height="36.80" fill="#e9e9e9" stroke="none" stroke-width="1" />
<rect x="215.8" y="1996.6" width="24.0" height="6.0" rx="3.0" fill="#000" opacity="0.6" filter="url(#b2)" transform="rotate(-4 227.8 1999.6)"/>
<rect x="221.2" y="1997.8" width="13.2" height="3.6" rx="1.8" fill="#000" opacity="0.36" filter="url(#b1)" transform="rotate(-4 227.8 1999.6)"/>
<rect x="250.7" y="1994.6" width="27.0" height="6.0" rx="3.0" fill="#000" opacity="0.5" filter="url(#b2)" transform="rotate(-4 264.2 1997.6)"/>
<rect x="256.8" y="1995.8" width="14.9" height="3.6" rx="1.8" fill="#000" opacity="0.3" filter="url(#b1)" transform="rotate(-4 264.2 1997.6)"/>
<rect x="290.1" y="1993.2" width="28.0" height="6.5" rx="3.2" fill="#000" opacity="0.7" filter="url(#b2)" transform="rotate(-4 304.1 1996.4)"/>
<rect x="296.4" y="1994.5" width="15.4" height="3.9" rx="1.9" fill="#000" opacity="0.42" filter="url(#b1)" transform="rotate(-4 304.1 1996.4)"/>
<rect x="331.5" y="1992.0" width="30.0" height="6.5" rx="3.2" fill="#000" opacity="0.75" filter="url(#b2)" transform="rotate(-4 346.5 1995.2)"/>
<rect x="338.2" y="1993.2" width="16.5" height="3.9" rx="1.9" fill="#000" opacity="0.44999999999999996" filter="url(#b1)" transform="rotate(-4 346.5 1995.2)"/>
<rect x="374.6" y="1987.6" width="32.0" height="8.0" rx="4.0" fill="#000" opacity="1" filter="url(#b2)" transform="rotate(-4 390.6 1991.6)"/>
<rect x="381.8" y="1989.2" width="17.6" height="4.8" rx="2.4" fill="#000" opacity="0.6" filter="url(#b1)" transform="rotate(-4 390.6 1991.6)"/>
<rect x="417.6" y="1986.9" width="33.0" height="7.0" rx="3.5" fill="#000" opacity="0.8" filter="url(#b2)" transform="rotate(-4 434.1 1990.4)"/>
<rect x="425.0" y="1988.3" width="18.2" height="4.2" rx="2.1" fill="#000" opacity="0.48" filter="url(#b1)" transform="rotate(-4 434.1 1990.4)"/>
<rect x="463.9" y="1986.7" width="30.0" height="5.0" rx="2.5" fill="#000" opacity="0.25" filter="url(#b2)" transform="rotate(-4 478.9 1989.2)"/>
<rect x="508.0" y="1986.7" width="28.0" height="5.0" rx="2.5" fill="#000" opacity="0.14" filter="url(#b2)" transform="rotate(-4 522.0 1989.2)"/>
<rect x="549.9" y="1986.0" width="30.0" height="5.0" rx="2.5" fill="#000" opacity="0.22" filter="url(#b2)" transform="rotate(-4 564.9 1988.5)"/>
<rect x="593.9" y="1984.8" width="32.0" height="5.5" rx="2.8" fill="#000" opacity="0.32" filter="url(#b2)" transform="rotate(2 609.9 1987.5)"/>
<rect x="635.0" y="1984.8" width="32.0" height="5.5" rx="2.8" fill="#000" opacity="0.42" filter="url(#b2)" transform="rotate(2 651.0 1987.5)"/>
<rect x="678.6" y="1985.2" width="32.0" height="5.5" rx="2.8" fill="#000" opacity="0.32" filter="url(#b2)" transform="rotate(2 694.6 1988.0)"/>
<rect x="720.2" y="1982.9" width="36.0" height="11.0" rx="5.5" fill="#000" opacity="1" filter="url(#b1)" transform="rotate(2 738.2 1988.4)"/>
<rect x="762.6" y="1984.4" width="36.0" height="11.0" rx="5.5" fill="#000" opacity="1" filter="url(#b1)" transform="rotate(2 780.6 1989.9)"/>
<rect x="806.6" y="1985.7" width="35.0" height="10.5" rx="5.2" fill="#000" opacity="1" filter="url(#b1)" transform="rotate(2 824.1 1990.9)"/>
<rect x="850.3" y="1988.6" width="30.0" height="6.0" rx="3.0" fill="#000" opacity="0.65" filter="url(#b2)" transform="rotate(2 865.3 1991.6)"/>
<rect x="857.0" y="1989.8" width="16.5" height="3.6" rx="1.8" fill="#000" opacity="0.39" filter="url(#b1)" transform="rotate(2 865.3 1991.6)"/>
<rect x="892.2" y="1991.5" width="30.0" height="6.5" rx="3.2" fill="#000" opacity="0.62" filter="url(#b2)" transform="rotate(2 907.2 1994.7)"/>
<rect x="899.0" y="1992.8" width="16.5" height="3.9" rx="1.9" fill="#000" opacity="0.372" filter="url(#b1)" transform="rotate(2 907.2 1994.7)"/>
<rect x="933.4" y="1994.0" width="30.0" height="6.5" rx="3.2" fill="#000" opacity="0.7" filter="url(#b2)" transform="rotate(2 948.4 1997.2)"/>
<rect x="940.1" y="1995.2" width="16.5" height="3.9" rx="1.9" fill="#000" opacity="0.42" filter="url(#b1)" transform="rotate(2 948.4 1997.2)"/>
</g>
<clipPath id="c3"><rect x="209.7" y="2017.0" width="767.2" height="29.3"/></clipPath>
<g clip-path="url(#c3)">
<rect x="209.70" y="2017.00" width="767.20" height="29.30" fill="#f8f8f8" stroke="none" stroke-width="1" />
<rect x="212.3" y="2027.8" width="36.0" height="9.0" rx="4.5" fill="#000" opacity="1" filter="url(#b0)"/>
<rect x="252.7" y="2028.5" width="36.0" height="8.5" rx="4.2" fill="#000" opacity="1" filter="url(#b0)"/>
<rect x="295.1" y="2028.5" width="36.0" height="8.5" rx="4.2" fill="#000" opacity="1" filter="url(#b0)" transform="rotate(-2 313.1 2032.7)"/>
<rect x="336.5" y="2027.8" width="36.0" height="7.3" rx="3.6" fill="#000" opacity="1" filter="url(#b0)" transform="rotate(-2 354.5 2031.5)"/>
<rect x="379.6" y="2026.8" width="36.0" height="7.0" rx="3.5" fill="#000" opacity="1" filter="url(#b0)" transform="rotate(-4 397.6 2030.3)"/>
<rect x="422.9" y="2025.8" width="36.0" height="6.5" rx="3.2" fill="#000" opacity="1" filter="url(#b0)" transform="rotate(-2 440.9 2029.1)"/>
<rect x="467.0" y="2024.2" width="36.0" height="6.5" rx="3.2" fill="#000" opacity="1" filter="url(#b0)" transform="rotate(-4 485.0 2027.4)"/>
<rect x="510.8" y="2023.5" width="36.0" height="6.3" rx="3.1" fill="#000" opacity="1" filter="url(#b0)" transform="rotate(-2 528.8 2026.7)"/>
<rect x="553.9" y="2022.8" width="36.0" height="5.5" rx="2.8" fill="#000" opacity="1" filter="url(#b0)" transform="rotate(-3 571.9 2025.5)"/>
<rect x="597.9" y="2022.5" width="36.0" height="5.0" rx="2.5" fill="#000" opacity="0.95" filter="url(#b0)" transform="rotate(2 615.9 2025.0)"/>
<rect x="641.0" y="2022.8" width="36.0" height="5.3" rx="2.6" fill="#000" opacity="0.95" filter="url(#b0)" transform="rotate(3 659.0 2025.5)"/>
<rect x="683.9" y="2024.5" width="36.0" height="5.5" rx="2.8" fill="#000" opacity="0.95" filter="url(#b0)" transform="rotate(4 701.9 2027.2)"/>
<rect x="727.2" y="2027.5" width="36.0" height="4.2" rx="2.1" fill="#000" opacity="0.85" filter="url(#b0)" transform="rotate(3 745.2 2029.6)"/>
<rect x="769.3" y="2028.8" width="36.0" height="4.4" rx="2.2" fill="#000" opacity="0.85" filter="url(#b0)" transform="rotate(3 787.3 2031.0)"/>
<rect x="810.7" y="2031.5" width="36.0" height="4.0" rx="2.0" fill="#000" opacity="0.8" filter="url(#b0)" transform="rotate(3 828.7 2033.5)"/>
<rect x="852.9" y="2032.4" width="36.0" height="7.0" rx="3.5" fill="#000" opacity="1" filter="url(#b0)" transform="rotate(2 870.9 2035.9)"/>
<rect x="894.3" y="2033.2" width="36.0" height="7.3" rx="3.6" fill="#000" opacity="1" filter="url(#b0)" transform="rotate(1 912.3 2036.9)"/>
<rect x="935.2" y="2033.8" width="36.0" height="7.5" rx="3.8" fill="#000" opacity="1" filter="url(#b0)" transform="rotate(-2 953.2 2037.6)"/>
</g>
<text xml:space="preserve" transform="translate(185.60,1960.60)" font-size="22.5" font-weight="normal" text-anchor="end" fill="#000" textLength="32.5" lengthAdjust="spacingAndGlyphs" >AIF</text>
<text xml:space="preserve" transform="translate(185.30,2004.80)" font-size="22.5" font-weight="normal" text-anchor="end" fill="#000" textLength="144.8" lengthAdjust="spacingAndGlyphs" >Cytochrome C</text>
<text xml:space="preserve" transform="translate(185.30,2046.50)" font-size="22.5" font-weight="normal" text-anchor="end" fill="#000" textLength="50.5" lengthAdjust="spacingAndGlyphs" >Actin</text>
<text xml:space="preserve" transform="translate(991.00,1965.90)" font-size="20" font-weight="normal" text-anchor="start" fill="#000" >67 kDa</text>
<text xml:space="preserve" transform="translate(996.50,2004.20)" font-size="20" font-weight="normal" text-anchor="start" fill="#000" >14 kDa</text>
<text xml:space="preserve" transform="translate(996.50,2044.80)" font-size="20" font-weight="normal" text-anchor="start" fill="#000" >42 kDa</text>
<line x1="103.20" y1="2084.30" x2="1402.80" y2="2084.30" stroke="#d2d2d2" stroke-width="1.2" stroke-linecap="butt"/>
<line x1="103.20" y1="2115.90" x2="1402.80" y2="2115.90" stroke="#d2d2d2" stroke-width="1.2" stroke-linecap="butt"/>
<line x1="103.20" y1="2146.60" x2="1402.80" y2="2146.60" stroke="#d2d2d2" stroke-width="1.2" stroke-linecap="butt"/>
<line x1="103.20" y1="2178.20" x2="1402.80" y2="2178.20" stroke="#d2d2d2" stroke-width="1.2" stroke-linecap="butt"/>
<line x1="103.20" y1="2084.30" x2="103.20" y2="2178.20" stroke="#d2d2d2" stroke-width="1.2" stroke-linecap="butt"/>
<line x1="212.10" y1="2115.90" x2="212.10" y2="2178.20" stroke="#d2d2d2" stroke-width="1.2" stroke-linecap="butt"/>
<line x1="268.80" y1="2115.90" x2="268.80" y2="2178.20" stroke="#d2d2d2" stroke-width="1.2" stroke-linecap="butt"/>
<line x1="325.50" y1="2115.90" x2="325.50" y2="2178.20" stroke="#d2d2d2" stroke-width="1.2" stroke-linecap="butt"/>
<line x1="382.20" y1="2115.90" x2="382.20" y2="2178.20" stroke="#d2d2d2" stroke-width="1.2" stroke-linecap="butt"/>
<line x1="438.90" y1="2115.90" x2="438.90" y2="2178.20" stroke="#d2d2d2" stroke-width="1.2" stroke-linecap="butt"/>
<line x1="495.60" y1="2115.90" x2="495.60" y2="2178.20" stroke="#d2d2d2" stroke-width="1.2" stroke-linecap="butt"/>
<line x1="552.30" y1="2115.90" x2="552.30" y2="2178.20" stroke="#d2d2d2" stroke-width="1.2" stroke-linecap="butt"/>
<line x1="609.00" y1="2115.90" x2="609.00" y2="2178.20" stroke="#d2d2d2" stroke-width="1.2" stroke-linecap="butt"/>
<line x1="665.70" y1="2115.90" x2="665.70" y2="2178.20" stroke="#d2d2d2" stroke-width="1.2" stroke-linecap="butt"/>
<line x1="722.40" y1="2115.90" x2="722.40" y2="2178.20" stroke="#d2d2d2" stroke-width="1.2" stroke-linecap="butt"/>
<line x1="779.10" y1="2115.90" x2="779.10" y2="2178.20" stroke="#d2d2d2" stroke-width="1.2" stroke-linecap="butt"/>
<line x1="835.80" y1="2115.90" x2="835.80" y2="2178.20" stroke="#d2d2d2" stroke-width="1.2" stroke-linecap="butt"/>
<line x1="892.50" y1="2115.90" x2="892.50" y2="2178.20" stroke="#d2d2d2" stroke-width="1.2" stroke-linecap="butt"/>
<line x1="949.20" y1="2115.90" x2="949.20" y2="2178.20" stroke="#d2d2d2" stroke-width="1.2" stroke-linecap="butt"/>
<line x1="1005.90" y1="2115.90" x2="1005.90" y2="2178.20" stroke="#d2d2d2" stroke-width="1.2" stroke-linecap="butt"/>
<line x1="1062.60" y1="2115.90" x2="1062.60" y2="2178.20" stroke="#d2d2d2" stroke-width="1.2" stroke-linecap="butt"/>
<line x1="1119.30" y1="2115.90" x2="1119.30" y2="2178.20" stroke="#d2d2d2" stroke-width="1.2" stroke-linecap="butt"/>
<line x1="1176.00" y1="2115.90" x2="1176.00" y2="2178.20" stroke="#d2d2d2" stroke-width="1.2" stroke-linecap="butt"/>
<line x1="1232.70" y1="2115.90" x2="1232.70" y2="2178.20" stroke="#d2d2d2" stroke-width="1.2" stroke-linecap="butt"/>
<line x1="1289.40" y1="2115.90" x2="1289.40" y2="2178.20" stroke="#d2d2d2" stroke-width="1.2" stroke-linecap="butt"/>
<line x1="1346.10" y1="2115.90" x2="1346.10" y2="2178.20" stroke="#d2d2d2" stroke-width="1.2" stroke-linecap="butt"/>
<line x1="1402.80" y1="2115.90" x2="1402.80" y2="2178.20" stroke="#d2d2d2" stroke-width="1.2" stroke-linecap="butt"/>
<rect x="212.10" y="2084.30" width="1190.70" height="31.60" fill="none" stroke="#3a3a3a" stroke-width="1.3" />
<line x1="382.20" y1="2084.30" x2="382.20" y2="2115.90" stroke="#3a3a3a" stroke-width="1.3" stroke-linecap="butt"/>
<line x1="722.40" y1="2084.30" x2="722.40" y2="2115.90" stroke="#3a3a3a" stroke-width="1.3" stroke-linecap="butt"/>
<line x1="1062.60" y1="2084.30" x2="1062.60" y2="2115.90" stroke="#3a3a3a" stroke-width="1.3" stroke-linecap="butt"/>
<text xml:space="preserve" transform="translate(297.15,2108.30)" font-size="22" font-weight="normal" text-anchor="middle" fill="#000" >CNT</text>
<text xml:space="preserve" transform="translate(552.30,2108.30)" font-size="22" font-weight="normal" text-anchor="middle" fill="#000" >1h</text>
<text xml:space="preserve" transform="translate(892.50,2108.30)" font-size="22" font-weight="normal" text-anchor="middle" fill="#000" >6h</text>
<text xml:space="preserve" transform="translate(1232.70,2108.30)" font-size="22" font-weight="normal" text-anchor="middle" fill="#000" >24h</text>
<text xml:space="preserve" transform="translate(157.60,2139.90)" font-size="22" font-weight="normal" text-anchor="middle" fill="#000" textLength="102.2" lengthAdjust="spacingAndGlyphs" >Etoposide</text>
<text xml:space="preserve" transform="translate(157.60,2170.50)" font-size="22" font-weight="normal" text-anchor="middle" fill="#000" >CR8</text>
<text xml:space="preserve" transform="translate(410.55,2140.30)" font-size="21" font-weight="normal" text-anchor="middle" fill="#000" >+</text>
<text xml:space="preserve" transform="translate(467.25,2140.30)" font-size="21" font-weight="normal" text-anchor="middle" fill="#000" >+</text>
<text xml:space="preserve" transform="translate(523.95,2140.30)" font-size="21" font-weight="normal" text-anchor="middle" fill="#000" >+</text>
<text xml:space="preserve" transform="translate(580.65,2140.30)" font-size="21" font-weight="normal" text-anchor="middle" fill="#000" >+</text>
<text xml:space="preserve" transform="translate(637.35,2140.30)" font-size="21" font-weight="normal" text-anchor="middle" fill="#000" >+</text>
<text xml:space="preserve" transform="translate(694.05,2140.30)" font-size="21" font-weight="normal" text-anchor="middle" fill="#000" >+</text>
<text xml:space="preserve" transform="translate(750.75,2140.30)" font-size="21" font-weight="normal" text-anchor="middle" fill="#000" >+</text>
<text xml:space="preserve" transform="translate(807.45,2140.30)" font-size="21" font-weight="normal" text-anchor="middle" fill="#000" >+</text>
<text xml:space="preserve" transform="translate(864.15,2140.30)" font-size="21" font-weight="normal" text-anchor="middle" fill="#000" >+</text>
<text xml:space="preserve" transform="translate(920.85,2140.30)" font-size="21" font-weight="normal" text-anchor="middle" fill="#000" >+</text>
<text xml:space="preserve" transform="translate(977.55,2140.30)" font-size="21" font-weight="normal" text-anchor="middle" fill="#000" >+</text>
<text xml:space="preserve" transform="translate(1034.25,2140.30)" font-size="21" font-weight="normal" text-anchor="middle" fill="#000" >+</text>
<text xml:space="preserve" transform="translate(1090.95,2140.30)" font-size="21" font-weight="normal" text-anchor="middle" fill="#000" >+</text>
<text xml:space="preserve" transform="translate(1147.65,2140.30)" font-size="21" font-weight="normal" text-anchor="middle" fill="#000" >+</text>
<text xml:space="preserve" transform="translate(1204.35,2140.30)" font-size="21" font-weight="normal" text-anchor="middle" fill="#000" >+</text>
<text xml:space="preserve" transform="translate(1261.05,2140.30)" font-size="21" font-weight="normal" text-anchor="middle" fill="#000" >+</text>
<text xml:space="preserve" transform="translate(1317.75,2140.30)" font-size="21" font-weight="normal" text-anchor="middle" fill="#000" >+</text>
<text xml:space="preserve" transform="translate(1374.45,2140.30)" font-size="21" font-weight="normal" text-anchor="middle" fill="#000" >+</text>
<text xml:space="preserve" transform="translate(580.65,2171.30)" font-size="21" font-weight="normal" text-anchor="middle" fill="#000" >+</text>
<text xml:space="preserve" transform="translate(637.35,2171.30)" font-size="21" font-weight="normal" text-anchor="middle" fill="#000" >+</text>
<text xml:space="preserve" transform="translate(694.05,2171.30)" font-size="21" font-weight="normal" text-anchor="middle" fill="#000" >+</text>
<text xml:space="preserve" transform="translate(920.85,2171.30)" font-size="21" font-weight="normal" text-anchor="middle" fill="#000" >+</text>
<text xml:space="preserve" transform="translate(977.55,2171.30)" font-size="21" font-weight="normal" text-anchor="middle" fill="#000" >+</text>
<text xml:space="preserve" transform="translate(1034.25,2171.30)" font-size="21" font-weight="normal" text-anchor="middle" fill="#000" >+</text>
<text xml:space="preserve" transform="translate(1261.05,2171.30)" font-size="21" font-weight="normal" text-anchor="middle" fill="#000" >+</text>
<text xml:space="preserve" transform="translate(1317.75,2171.30)" font-size="21" font-weight="normal" text-anchor="middle" fill="#000" >+</text>
<text xml:space="preserve" transform="translate(1374.45,2171.30)" font-size="21" font-weight="normal" text-anchor="middle" fill="#000" >+</text>
<clipPath id="c4"><rect x="203.1" y="2192.5" width="1201.3" height="60.1"/></clipPath>
<g clip-path="url(#c4)">
<rect x="203.10" y="2192.50" width="1201.30" height="60.10" fill="url(#gApaf)" stroke="none" stroke-width="1" />
<rect x="205.2" y="2190.0" width="44.0" height="66.0" fill="#000" opacity="0.025" filter="url(#b3)"/>
<rect x="262.6" y="2190.0" width="44.0" height="66.0" fill="#000" opacity="0.025" filter="url(#b3)"/>
<rect x="319.4" y="2190.0" width="44.0" height="66.0" fill="#000" opacity="0.025" filter="url(#b3)"/>
<rect x="375.4" y="2190.0" width="44.0" height="66.0" fill="#000" opacity="0.025" filter="url(#b3)"/>
<rect x="431.7" y="2190.0" width="44.0" height="66.0" fill="#000" opacity="0.025" filter="url(#b3)"/>
<rect x="488.0" y="2190.0" width="44.0" height="66.0" fill="#000" opacity="0.025" filter="url(#b3)"/>
<rect x="544.3" y="2190.0" width="44.0" height="66.0" fill="#000" opacity="0.025" filter="url(#b3)"/>
<rect x="601.0" y="2190.0" width="44.0" height="66.0" fill="#000" opacity="0.025" filter="url(#b3)"/>
<rect x="656.9" y="2190.0" width="44.0" height="66.0" fill="#000" opacity="0.025" filter="url(#b3)"/>
<rect x="711.8" y="2190.0" width="44.0" height="66.0" fill="#000" opacity="0.025" filter="url(#b3)"/>
<rect x="767.8" y="2190.0" width="44.0" height="66.0" fill="#000" opacity="0.025" filter="url(#b3)"/>
<rect x="822.4" y="2190.0" width="44.0" height="66.0" fill="#000" opacity="0.025" filter="url(#b3)"/>
<rect x="877.4" y="2190.0" width="44.0" height="66.0" fill="#000" opacity="0.025" filter="url(#b3)"/>
<rect x="933.1" y="2190.0" width="44.0" height="66.0" fill="#000" opacity="0.025" filter="url(#b3)"/>
<rect x="988.5" y="2190.0" width="44.0" height="66.0" fill="#000" opacity="0.025" filter="url(#b3)"/>
<rect x="1046.6" y="2190.0" width="44.0" height="66.0" fill="#000" opacity="0.08" filter="url(#b3)"/>
<rect x="1105.8" y="2190.0" width="44.0" height="66.0" fill="#000" opacity="0.08" filter="url(#b3)"/>
<rect x="1172.6" y="2190.0" width="44.0" height="66.0" fill="#000" opacity="0.08" filter="url(#b3)"/>
<rect x="1231.5" y="2190.0" width="44.0" height="66.0" fill="#000" opacity="0.08" filter="url(#b3)"/>
<rect x="1290.4" y="2190.0" width="44.0" height="66.0" fill="#000" opacity="0.08" filter="url(#b3)"/>
<rect x="1352.4" y="2190.0" width="44.0" height="66.0" fill="#000" opacity="0.08" filter="url(#b3)"/>
<rect x="204.2" y="2214.5" width="46.0" height="16.0" rx="8.0" fill="#000" opacity="1" filter="url(#b1)" transform="rotate(2 227.2 2222.5)"/>
<rect x="262.1" y="2216.2" width="45.0" height="15.0" rx="7.5" fill="#000" opacity="1" filter="url(#b1)" transform="rotate(2 284.6 2223.7)"/>
<rect x="319.4" y="2217.4" width="44.0" height="14.0" rx="7.0" fill="#000" opacity="1" filter="url(#b1)"/>
<rect x="374.9" y="2219.5" width="45.0" height="15.0" rx="7.5" fill="#000" opacity="1" filter="url(#b1)" transform="rotate(3 397.4 2227.0)"/>
<rect x="431.2" y="2222.2" width="45.0" height="15.5" rx="7.8" fill="#000" opacity="1" filter="url(#b1)" transform="rotate(2 453.7 2230.0)"/>
<rect x="488.5" y="2224.2" width="43.0" height="14.5" rx="7.2" fill="#000" opacity="1" filter="url(#b1)"/>
<rect x="544.8" y="2224.1" width="43.0" height="13.5" rx="6.8" fill="#000" opacity="1" filter="url(#b1)" transform="rotate(-2 566.3 2230.8)"/>
<rect x="601.5" y="2221.4" width="43.0" height="13.5" rx="6.8" fill="#000" opacity="1" filter="url(#b1)" transform="rotate(-3 623.0 2228.2)"/>
<rect x="657.4" y="2219.2" width="43.0" height="12.0" rx="6.0" fill="#000" opacity="1" filter="url(#b1)" transform="rotate(-4 678.9 2225.2)"/>
<rect x="712.8" y="2216.1" width="42.0" height="11.5" rx="5.8" fill="#000" opacity="1" filter="url(#b1)" transform="rotate(-2 733.8 2221.8)"/>
<rect x="769.8" y="2218.4" width="40.0" height="8.5" rx="4.2" fill="#000" opacity="0.95" filter="url(#b1)" transform="rotate(2 789.8 2222.7)"/>
<rect x="823.9" y="2219.4" width="41.0" height="10.0" rx="5.0" fill="#000" opacity="1" filter="url(#b1)"/>
<rect x="878.9" y="2219.2" width="41.0" height="10.5" rx="5.2" fill="#000" opacity="1" filter="url(#b1)"/>
<rect x="934.6" y="2220.8" width="41.0" height="9.5" rx="4.8" fill="#000" opacity="0.92" filter="url(#b1)" transform="rotate(2 955.1 2225.5)"/>
<rect x="990.5" y="2222.9" width="40.0" height="9.0" rx="4.5" fill="#000" opacity="0.95" filter="url(#b1)" transform="rotate(5 1010.5 2227.4)"/>
<rect x="1048.6" y="2229.5" width="40.0" height="5.0" rx="2.5" fill="#000" opacity="0.1" filter="url(#b1)" transform="rotate(3 1068.6 2232.0)"/>
<rect x="1107.8" y="2230.5" width="40.0" height="5.0" rx="2.5" fill="#000" opacity="0.06" filter="url(#b1)"/>
<rect x="1173.6" y="2227.5" width="42.0" height="7.0" rx="3.5" fill="#000" opacity="0.22" filter="url(#b1)" transform="rotate(-6 1194.6 2231.0)"/>
<rect x="1232.5" y="2219.7" width="42.0" height="9.5" rx="4.8" fill="#000" opacity="0.88" filter="url(#b1)" transform="rotate(2 1253.5 2224.4)"/>
<rect x="1290.4" y="2212.0" width="44.0" height="10.0" rx="5.0" fill="#000" opacity="0.92" filter="url(#b1)" transform="rotate(-10 1312.4 2217.0)"/>
<rect x="1351.4" y="2204.6" width="46.0" height="7.5" rx="3.8" fill="#000" opacity="0.5" filter="url(#b1)" transform="rotate(-8 1374.4 2208.3)"/>
</g>
<clipPath id="c5"><rect x="202.4" y="2265.0" width="1201.8" height="55.9"/></clipPath>
<g clip-path="url(#c5)">
<rect x="202.40" y="2265.00" width="1201.80" height="55.90" fill="#efefef" stroke="none" stroke-width="1" />
<rect x="202.0" y="2263.0" width="1203.0" height="5.0" fill="#000" opacity="0.22" filter="url(#b2)"/>
<rect x="202.0" y="2306.0" width="1203.0" height="18.0" fill="#000" opacity="0.05" filter="url(#b3)"/>
<rect x="205.0" y="2258.0" width="44.0" height="70.0" fill="#000" opacity="0.14" filter="url(#b2)"/>
<rect x="262.5" y="2258.0" width="44.0" height="70.0" fill="#000" opacity="0.14" filter="url(#b2)"/>
<rect x="319.5" y="2258.0" width="44.0" height="70.0" fill="#000" opacity="0.14" filter="url(#b2)"/>
<rect x="375.5" y="2258.0" width="44.0" height="70.0" fill="#000" opacity="0.14" filter="url(#b2)"/>
<rect x="431.5" y="2258.0" width="44.0" height="70.0" fill="#000" opacity="0.14" filter="url(#b2)"/>
<rect x="488.0" y="2258.0" width="44.0" height="70.0" fill="#000" opacity="0.14" filter="url(#b2)"/>
<rect x="544.5" y="2258.0" width="44.0" height="70.0" fill="#000" opacity="0.14" filter="url(#b2)"/>
<rect x="601.0" y="2258.0" width="44.0" height="70.0" fill="#000" opacity="0.14" filter="url(#b2)"/>
<rect x="657.0" y="2258.0" width="44.0" height="70.0" fill="#000" opacity="0.14" filter="url(#b2)"/>
<rect x="720.6" y="2258.0" width="44.0" height="70.0" fill="#000" opacity="0.14" filter="url(#b2)"/>
<rect x="778.0" y="2258.0" width="44.0" height="70.0" fill="#000" opacity="0.14" filter="url(#b2)"/>
<rect x="838.9" y="2258.0" width="44.0" height="70.0" fill="#000" opacity="0.14" filter="url(#b2)"/>
<rect x="896.5" y="2258.0" width="44.0" height="70.0" fill="#000" opacity="0.14" filter="url(#b2)"/>
<rect x="954.7" y="2258.0" width="44.0" height="70.0" fill="#000" opacity="0.14" filter="url(#b2)"/>
<rect x="1009.1" y="2258.0" width="44.0" height="70.0" fill="#000" opacity="0.14" filter="url(#b2)"/>
<rect x="1062.6" y="2258.0" width="44.0" height="70.0" fill="#000" opacity="0.15" filter="url(#b2)"/>
<rect x="1131.1" y="2258.0" width="44.0" height="70.0" fill="#000" opacity="0.15" filter="url(#b2)"/>
<rect x="1187.4" y="2258.0" width="44.0" height="70.0" fill="#000" opacity="0.15" filter="url(#b2)"/>
<rect x="1240.9" y="2258.0" width="44.0" height="70.0" fill="#000" opacity="0.15" filter="url(#b2)"/>
<rect x="1298.0" y="2258.0" width="44.0" height="70.0" fill="#000" opacity="0.15" filter="url(#b2)"/>
<rect x="1354.6" y="2258.0" width="44.0" height="70.0" fill="#000" opacity="0.15" filter="url(#b2)"/>
<rect x="207.0" y="2279.0" width="40.0" height="13.0" rx="6.5" fill="#000" opacity="0.16" filter="url(#b3)"/>
<rect x="264.5" y="2279.0" width="40.0" height="13.0" rx="6.5" fill="#000" opacity="0.154" filter="url(#b3)"/>
<rect x="321.5" y="2279.0" width="40.0" height="13.0" rx="6.5" fill="#000" opacity="0.148" filter="url(#b3)"/>
<rect x="377.5" y="2279.0" width="40.0" height="13.0" rx="6.5" fill="#000" opacity="0.14200000000000002" filter="url(#b3)"/>
<rect x="433.5" y="2279.0" width="40.0" height="13.0" rx="6.5" fill="#000" opacity="0.136" filter="url(#b3)"/>
<rect x="490.0" y="2279.0" width="40.0" height="13.0" rx="6.5" fill="#000" opacity="0.13" filter="url(#b3)"/>
<rect x="546.5" y="2279.0" width="40.0" height="13.0" rx="6.5" fill="#000" opacity="0.124" filter="url(#b3)"/>
<rect x="603.0" y="2279.0" width="40.0" height="13.0" rx="6.5" fill="#000" opacity="0.118" filter="url(#b3)"/>
<rect x="659.0" y="2279.0" width="40.0" height="13.0" rx="6.5" fill="#000" opacity="0.112" filter="url(#b3)"/>
<rect x="719.6" y="2272.6" width="46.0" height="18.5" rx="9.2" fill="#000" opacity="1" filter="url(#b1)"/>
<rect x="716.6" y="2270.0" width="52.0" height="28.0" rx="14.0" fill="#000" opacity="0.3" filter="url(#b3)"/>
<rect x="777.0" y="2272.6" width="46.0" height="18.5" rx="9.2" fill="#000" opacity="1" filter="url(#b1)"/>
<rect x="774.0" y="2270.0" width="52.0" height="28.0" rx="14.0" fill="#000" opacity="0.3" filter="url(#b3)"/>
<rect x="837.9" y="2274.1" width="46.0" height="18.5" rx="9.2" fill="#000" opacity="1" filter="url(#b1)"/>
<rect x="834.9" y="2270.0" width="52.0" height="28.0" rx="14.0" fill="#000" opacity="0.3" filter="url(#b3)"/>
<rect x="898.5" y="2279.0" width="40.0" height="11.0" rx="5.5" fill="#000" opacity="0.36" filter="url(#b3)"/>
<rect x="956.7" y="2280.0" width="40.0" height="11.0" rx="5.5" fill="#000" opacity="0.36" filter="url(#b3)"/>
<rect x="1011.1" y="2281.5" width="40.0" height="11.0" rx="5.5" fill="#000" opacity="0.36" filter="url(#b3)"/>
<rect x="1073.6" y="2293.1" width="22.0" height="15.0" rx="7.5" fill="#000" opacity="1" filter="url(#b1)"/>
<rect x="1066.6" y="2279.0" width="44.0" height="22.0" rx="11.0" fill="#000" opacity="0.22" filter="url(#b3)"/>
<rect x="1131.6" y="2285.2" width="43.0" height="21.0" rx="10.5" fill="#000" opacity="1" filter="url(#b1)"/>
<rect x="1127.1" y="2274.0" width="52.0" height="40.0" rx="20.0" fill="#000" opacity="0.3" filter="url(#b3)"/>
<rect x="1189.4" y="2289.5" width="40.0" height="20.0" rx="10.0" fill="#000" opacity="1" filter="url(#b1)"/>
<rect x="1183.4" y="2274.0" width="52.0" height="40.0" rx="20.0" fill="#000" opacity="0.3" filter="url(#b3)"/>
<rect x="1242.9" y="2271.0" width="40.0" height="8.0" rx="4.0" fill="#000" opacity="0.22" filter="url(#b3)"/>
<rect x="1241.9" y="2291.6" width="42.0" height="12.0" rx="6.0" fill="#000" opacity="0.42" filter="url(#b3)"/>
<rect x="1300.0" y="2271.0" width="40.0" height="8.0" rx="4.0" fill="#000" opacity="0.22" filter="url(#b3)"/>
<rect x="1299.0" y="2291.6" width="42.0" height="12.0" rx="6.0" fill="#000" opacity="0.42" filter="url(#b3)"/>
<rect x="1356.6" y="2271.0" width="40.0" height="8.0" rx="4.0" fill="#000" opacity="0.22" filter="url(#b3)"/>
<rect x="1355.6" y="2291.6" width="42.0" height="12.0" rx="6.0" fill="#000" opacity="0.42" filter="url(#b3)"/>
</g>
<clipPath id="c6"><rect x="202.4" y="2332.5" width="1201.2" height="46.2"/></clipPath>
<g clip-path="url(#c6)">
<rect x="202.40" y="2332.50" width="1201.20" height="46.20" fill="#f5f5f5" stroke="none" stroke-width="1" />
<rect x="204.6" y="2342.3" width="50.5" height="19.0" rx="9.5" fill="#000" opacity="1" filter="url(#b0)" transform="rotate(-3 229.8 2351.8)"/>
<rect x="259.9" y="2341.2" width="50.5" height="19.0" rx="9.5" fill="#000" opacity="1" filter="url(#b0)"/>
<rect x="316.8" y="2342.1" width="50.5" height="18.5" rx="9.2" fill="#000" opacity="1" filter="url(#b0)"/>
<rect x="370.8" y="2343.3" width="50.5" height="19.0" rx="9.5" fill="#000" opacity="1" filter="url(#b0)" transform="rotate(2 396.0 2352.8)"/>
<rect x="425.6" y="2343.1" width="50.5" height="17.5" rx="8.8" fill="#000" opacity="1" filter="url(#b0)"/>
<rect x="484.6" y="2340.5" width="50.5" height="17.0" rx="8.5" fill="#000" opacity="1" filter="url(#b0)" transform="rotate(-2 509.8 2349.0)"/>
<rect x="542.4" y="2338.5" width="50.5" height="17.0" rx="8.5" fill="#000" opacity="1" filter="url(#b0)" transform="rotate(-1 567.6 2347.0)"/>
<rect x="598.8" y="2338.3" width="50.5" height="16.5" rx="8.2" fill="#000" opacity="1" filter="url(#b0)"/>
<rect x="655.6" y="2337.1" width="50.5" height="17.0" rx="8.5" fill="#000" opacity="1" filter="url(#b0)" transform="rotate(-2 680.9 2345.6)"/>
<rect x="715.1" y="2336.6" width="50.5" height="17.5" rx="8.8" fill="#000" opacity="1" filter="url(#b0)"/>
<rect x="774.1" y="2338.3" width="50.5" height="17.0" rx="8.5" fill="#000" opacity="1" filter="url(#b0)"/>
<rect x="832.4" y="2339.5" width="50.5" height="17.0" rx="8.5" fill="#000" opacity="1" filter="url(#b0)"/>
<rect x="890.5" y="2340.6" width="50.5" height="18.5" rx="9.2" fill="#000" opacity="1" filter="url(#b0)" transform="rotate(1 915.7 2349.8)"/>
<rect x="946.8" y="2342.3" width="50.5" height="18.0" rx="9.0" fill="#000" opacity="1" filter="url(#b0)" transform="rotate(-2 972.0 2351.3)"/>
<rect x="1002.5" y="2343.0" width="50.5" height="18.0" rx="9.0" fill="#000" opacity="1" filter="url(#b0)" transform="rotate(2 1027.8 2352.0)"/>
<rect x="1061.7" y="2346.8" width="50.5" height="15.5" rx="7.8" fill="#000" opacity="1" filter="url(#b0)" transform="rotate(3 1086.9 2354.5)"/>
<rect x="1121.8" y="2349.7" width="50.5" height="17.0" rx="8.5" fill="#000" opacity="1" filter="url(#b0)" transform="rotate(2 1147.1 2358.2)"/>
<rect x="1177.2" y="2353.3" width="50.5" height="16.5" rx="8.2" fill="#000" opacity="1" filter="url(#b0)" transform="rotate(2 1202.5 2361.6)"/>
<rect x="1232.0" y="2354.6" width="50.5" height="17.0" rx="8.5" fill="#000" opacity="1" filter="url(#b0)"/>
<rect x="1289.5" y="2354.6" width="50.5" height="17.0" rx="8.5" fill="#000" opacity="1" filter="url(#b0)" transform="rotate(-1 1314.7 2363.1)"/>
<rect x="1346.5" y="2354.7" width="50.5" height="19.5" rx="9.8" fill="#000" opacity="1" filter="url(#b0)" transform="rotate(3 1371.7 2364.4)"/>
</g>
<clipPath id="c7"><rect x="198.3" y="2387.7" width="1201.6" height="49.1"/></clipPath>
<g clip-path="url(#c7)">
<rect x="198.30" y="2387.70" width="1201.60" height="49.10" fill="#dddddd" stroke="none" stroke-width="1" />
<rect x="201.3" y="2386.0" width="46.0" height="52.0" fill="#000" opacity="0.06" filter="url(#b3)"/>
<rect x="258.0" y="2386.0" width="46.0" height="52.0" fill="#000" opacity="0.06" filter="url(#b3)"/>
<rect x="314.3" y="2386.0" width="46.0" height="52.0" fill="#000" opacity="0.06" filter="url(#b3)"/>
<rect x="369.1" y="2386.0" width="46.0" height="52.0" fill="#000" opacity="0.06" filter="url(#b3)"/>
<rect x="423.5" y="2386.0" width="46.0" height="52.0" fill="#000" opacity="0.06" filter="url(#b3)"/>
<rect x="478.5" y="2386.0" width="46.0" height="52.0" fill="#000" opacity="0.06" filter="url(#b3)"/>
<rect x="534.2" y="2386.0" width="46.0" height="52.0" fill="#000" opacity="0.06" filter="url(#b3)"/>
<rect x="589.6" y="2386.0" width="46.0" height="52.0" fill="#000" opacity="0.06" filter="url(#b3)"/>
<rect x="645.5" y="2386.0" width="46.0" height="52.0" fill="#000" opacity="0.06" filter="url(#b3)"/>
<rect x="702.7" y="2386.0" width="46.0" height="52.0" fill="#000" opacity="0.06" filter="url(#b3)"/>
<rect x="763.7" y="2386.0" width="46.0" height="52.0" fill="#000" opacity="0.06" filter="url(#b3)"/>
<rect x="821.4" y="2386.0" width="46.0" height="52.0" fill="#000" opacity="0.06" filter="url(#b3)"/>
<rect x="879.6" y="2386.0" width="46.0" height="52.0" fill="#000" opacity="0.06" filter="url(#b3)"/>
<rect x="937.8" y="2386.0" width="46.0" height="52.0" fill="#000" opacity="0.06" filter="url(#b3)"/>
<rect x="993.1" y="2386.0" width="46.0" height="52.0" fill="#000" opacity="0.06" filter="url(#b3)"/>
<rect x="1053.2" y="2386.0" width="46.0" height="52.0" fill="#000" opacity="0.06" filter="url(#b3)"/>
<rect x="1110.4" y="2386.0" width="46.0" height="52.0" fill="#000" opacity="0.06" filter="url(#b3)"/>
<rect x="1167.6" y="2386.0" width="46.0" height="52.0" fill="#000" opacity="0.06" filter="url(#b3)"/>
<rect x="1226.7" y="2386.0" width="46.0" height="52.0" fill="#000" opacity="0.06" filter="url(#b3)"/>
<rect x="1284.9" y="2386.0" width="46.0" height="52.0" fill="#000" opacity="0.06" filter="url(#b3)"/>
<rect x="1345.0" y="2386.0" width="46.0" height="52.0" fill="#000" opacity="0.06" filter="url(#b3)"/>
<rect x="198.3" y="2394.0" width="52.0" height="38.0" rx="19.0" fill="#000" opacity="0.3" filter="url(#b3)"/>
<rect x="199.6" y="2402.0" width="49.5" height="26.0" rx="13.0" fill="#000" opacity="1" filter="url(#b1)"/>
<rect x="255.0" y="2394.0" width="52.0" height="38.0" rx="19.0" fill="#000" opacity="0.3" filter="url(#b3)"/>
<rect x="256.2" y="2402.0" width="49.5" height="26.0" rx="13.0" fill="#000" opacity="1" filter="url(#b1)"/>
<rect x="311.3" y="2394.0" width="52.0" height="38.0" rx="19.0" fill="#000" opacity="0.3" filter="url(#b3)"/>
<rect x="312.6" y="2402.0" width="49.5" height="26.0" rx="13.0" fill="#000" opacity="1" filter="url(#b1)"/>
<rect x="366.1" y="2394.2" width="52.0" height="37.5" rx="18.8" fill="#000" opacity="0.3" filter="url(#b3)"/>
<rect x="367.4" y="2402.2" width="49.5" height="25.5" rx="12.8" fill="#000" opacity="1" filter="url(#b1)"/>
<rect x="420.5" y="2394.5" width="52.0" height="37.0" rx="18.5" fill="#000" opacity="0.3" filter="url(#b3)"/>
<rect x="421.8" y="2402.5" width="49.5" height="25.0" rx="12.5" fill="#000" opacity="1" filter="url(#b1)"/>
<rect x="475.5" y="2395.5" width="52.0" height="35.0" rx="17.5" fill="#000" opacity="0.3" filter="url(#b3)"/>
<rect x="476.8" y="2403.5" width="49.5" height="23.0" rx="11.5" fill="#000" opacity="1" filter="url(#b1)"/>
<rect x="531.2" y="2394.2" width="52.0" height="36.5" rx="18.2" fill="#000" opacity="0.3" filter="url(#b3)"/>
<rect x="532.5" y="2402.2" width="49.5" height="24.5" rx="12.2" fill="#000" opacity="1" filter="url(#b1)"/>
<rect x="586.6" y="2394.0" width="52.0" height="35.0" rx="17.5" fill="#000" opacity="0.3" filter="url(#b3)"/>
<rect x="587.9" y="2402.0" width="49.5" height="23.0" rx="11.5" fill="#000" opacity="1" filter="url(#b1)"/>
<rect x="642.5" y="2393.8" width="52.0" height="33.5" rx="16.8" fill="#000" opacity="0.3" filter="url(#b3)"/>
<rect x="643.8" y="2401.8" width="49.5" height="21.5" rx="10.8" fill="#000" opacity="1" filter="url(#b1)"/>
<rect x="703.2" y="2399.5" width="45.0" height="13.0" rx="6.5" fill="#000" opacity="0.45" filter="url(#b3)"/>
<rect x="703.2" y="2410.8" width="45.0" height="10.5" rx="5.2" fill="#000" opacity="0.9" filter="url(#b2)"/>
<rect x="764.2" y="2399.5" width="45.0" height="13.0" rx="6.5" fill="#000" opacity="0.45" filter="url(#b3)"/>
<rect x="764.2" y="2410.8" width="45.0" height="10.5" rx="5.2" fill="#000" opacity="0.92" filter="url(#b2)"/>
<rect x="821.9" y="2398.5" width="45.0" height="13.0" rx="6.5" fill="#000" opacity="0.5" filter="url(#b3)"/>
<rect x="821.9" y="2409.5" width="45.0" height="11.0" rx="5.5" fill="#000" opacity="0.95" filter="url(#b2)"/>
<rect x="880.1" y="2400.5" width="45.0" height="13.0" rx="6.5" fill="#000" opacity="0.4" filter="url(#b3)"/>
<rect x="880.1" y="2411.8" width="45.0" height="10.5" rx="5.2" fill="#000" opacity="0.92" filter="url(#b2)"/>
<rect x="938.3" y="2402.3" width="45.0" height="13.0" rx="6.5" fill="#000" opacity="0.42" filter="url(#b3)"/>
<rect x="938.3" y="2413.1" width="45.0" height="11.5" rx="5.8" fill="#000" opacity="0.97" filter="url(#b2)"/>
<rect x="993.6" y="2403.0" width="45.0" height="13.0" rx="6.5" fill="#000" opacity="0.35" filter="url(#b3)"/>
<rect x="993.6" y="2414.0" width="45.0" height="11.0" rx="5.5" fill="#000" opacity="0.9" filter="url(#b2)"/>
<rect x="1053.7" y="2404.0" width="45.0" height="13.0" rx="6.5" fill="#000" opacity="0.16" filter="url(#b3)"/>
<rect x="1053.7" y="2416.0" width="45.0" height="9.0" rx="4.5" fill="#000" opacity="0.3" filter="url(#b2)"/>
<rect x="1110.9" y="2404.2" width="45.0" height="13.0" rx="6.5" fill="#000" opacity="0.45" filter="url(#b3)"/>
<rect x="1110.9" y="2414.2" width="45.0" height="13.0" rx="6.5" fill="#000" opacity="0.95" filter="url(#b2)"/>
<rect x="1168.1" y="2404.0" width="45.0" height="13.0" rx="6.5" fill="#000" opacity="0.2" filter="url(#b3)"/>
<rect x="1168.1" y="2416.0" width="45.0" height="9.0" rx="4.5" fill="#000" opacity="0.36" filter="url(#b2)"/>
<rect x="1227.2" y="2402.5" width="45.0" height="13.0" rx="6.5" fill="#000" opacity="0.12" filter="url(#b3)"/>
<rect x="1227.2" y="2414.0" width="45.0" height="10.0" rx="5.0" fill="#000" opacity="0.85" filter="url(#b2)"/>
<rect x="1285.4" y="2401.5" width="45.0" height="13.0" rx="6.5" fill="#000" opacity="0.12" filter="url(#b3)"/>
<rect x="1285.4" y="2413.0" width="45.0" height="10.0" rx="5.0" fill="#000" opacity="0.82" filter="url(#b2)"/>
<rect x="1345.5" y="2400.5" width="45.0" height="13.0" rx="6.5" fill="#000" opacity="0.1" filter="url(#b3)"/>
<rect x="1345.5" y="2412.5" width="45.0" height="9.0" rx="4.5" fill="#000" opacity="0.65" filter="url(#b2)"/>
</g>
<clipPath id="c8"><rect x="196.8" y="2448.1" width="1201.2" height="47.7"/></clipPath>
<g clip-path="url(#c8)">
<rect x="196.80" y="2448.10" width="1201.20" height="47.70" fill="#e4e4e4" stroke="none" stroke-width="1" />
<rect x="202.2" y="2463.2" width="45.0" height="12.5" rx="6.2" fill="#000" opacity="1" filter="url(#b1)" transform="rotate(2 224.7 2469.5)"/>
<rect x="259.5" y="2465.4" width="45.0" height="12.0" rx="6.0" fill="#000" opacity="1" filter="url(#b1)"/>
<rect x="315.2" y="2466.1" width="45.0" height="12.0" rx="6.0" fill="#000" opacity="1" filter="url(#b1)" transform="rotate(2 337.7 2472.1)"/>
<rect x="369.2" y="2468.2" width="45.0" height="11.5" rx="5.8" fill="#000" opacity="1" filter="url(#b1)" transform="rotate(2 391.7 2474.0)"/>
<rect x="423.5" y="2468.4" width="45.0" height="12.0" rx="6.0" fill="#000" opacity="1" filter="url(#b1)"/>
<rect x="478.6" y="2469.8" width="45.0" height="10.5" rx="5.2" fill="#000" opacity="1" filter="url(#b1)"/>
<rect x="534.4" y="2469.8" width="45.0" height="10.5" rx="5.2" fill="#000" opacity="1" filter="url(#b1)"/>
<rect x="590.3" y="2470.1" width="45.0" height="10.0" rx="5.0" fill="#000" opacity="1" filter="url(#b1)"/>
<rect x="646.6" y="2469.4" width="45.0" height="10.0" rx="5.0" fill="#000" opacity="1" filter="url(#b1)"/>
<rect x="703.6" y="2469.4" width="45.0" height="10.0" rx="5.0" fill="#000" opacity="1" filter="url(#b1)"/>
<rect x="762.7" y="2469.0" width="45.0" height="10.0" rx="5.0" fill="#000" opacity="1" filter="url(#b1)"/>
<rect x="821.9" y="2468.2" width="45.0" height="10.0" rx="5.0" fill="#000" opacity="1" filter="url(#b1)"/>
<rect x="880.1" y="2469.8" width="45.0" height="10.5" rx="5.2" fill="#000" opacity="1" filter="url(#b1)" transform="rotate(3 902.6 2475.1)"/>
<rect x="939.2" y="2471.7" width="45.0" height="12.0" rx="6.0" fill="#000" opacity="1" filter="url(#b1)" transform="rotate(2 961.7 2477.7)"/>
<rect x="994.0" y="2473.2" width="45.0" height="11.5" rx="5.8" fill="#000" opacity="1" filter="url(#b1)"/>
<rect x="1054.6" y="2475.9" width="45.0" height="6.0" rx="3.0" fill="#000" opacity="0.32" filter="url(#b1)"/>
<rect x="1111.8" y="2475.8" width="45.0" height="10.0" rx="5.0" fill="#000" opacity="0.92" filter="url(#b1)"/>
<rect x="1169.1" y="2475.9" width="45.0" height="7.5" rx="3.8" fill="#000" opacity="0.42" filter="url(#b1)" transform="rotate(-3 1191.6 2479.7)"/>
<rect x="1228.0" y="2474.1" width="45.0" height="13.5" rx="6.8" fill="#000" opacity="1" filter="url(#b1)"/>
<rect x="1283.0" y="2473.5" width="45.0" height="13.0" rx="6.5" fill="#000" opacity="1" filter="url(#b1)" transform="rotate(-2 1305.5 2480.0)"/>
<rect x="1343.2" y="2472.4" width="45.0" height="13.0" rx="6.5" fill="#000" opacity="1" filter="url(#b1)"/>
</g>
<text xml:space="preserve" transform="translate(187.70,2222.80)" font-size="22.5" font-weight="normal" text-anchor="end" fill="#000" >Apaf-1</text>
<text xml:space="preserve" transform="translate(192.30,2301.90)" font-size="22.5" font-weight="normal" text-anchor="end" fill="#000" textLength="188.6" lengthAdjust="spacingAndGlyphs" >Cleaved Caspase-9</text>
<text xml:space="preserve" transform="translate(192.30,2360.80)" font-size="22.5" font-weight="normal" text-anchor="end" fill="#000" >Actin</text>
<text xml:space="preserve" transform="translate(187.70,2424.70)" font-size="22.5" font-weight="normal" text-anchor="end" fill="#000" >Mcl-1</text>
<text xml:space="preserve" transform="translate(188.60,2483.60)" font-size="22.5" font-weight="normal" text-anchor="end" fill="#000" >Actin</text>
<text xml:space="preserve" transform="translate(1429.50,2229.70)" font-size="20" font-weight="normal" text-anchor="start" fill="#000" >135 kDa</text>
<text xml:space="preserve" transform="translate(1429.50,2298.70)" font-size="20" font-weight="normal" text-anchor="start" fill="#000" >37 kDa</text>
<text xml:space="preserve" transform="translate(1429.50,2356.20)" font-size="20" font-weight="normal" text-anchor="start" fill="#000" >42 kDa</text>
<text xml:space="preserve" transform="translate(1429.50,2422.90)" font-size="20" font-weight="normal" text-anchor="start" fill="#000" >35 kDa</text>
<text xml:space="preserve" transform="translate(1429.50,2479.00)" font-size="20" font-weight="normal" text-anchor="start" fill="#000" >42 kDa</text>
</svg>
</body></html>
